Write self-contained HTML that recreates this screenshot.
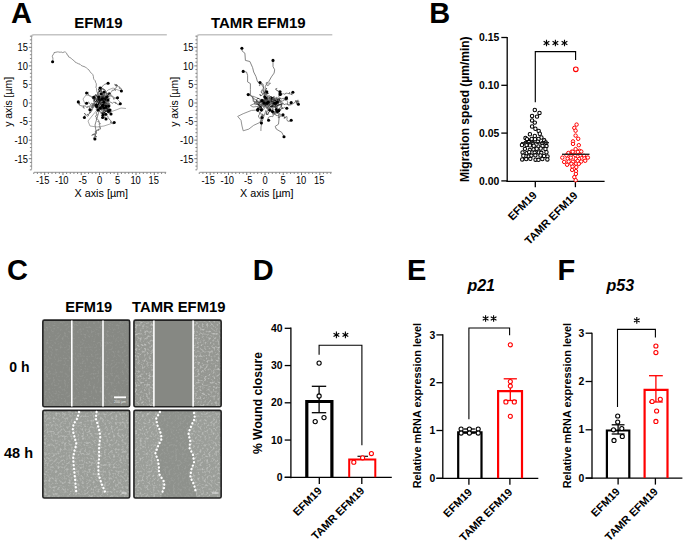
<!DOCTYPE html>
<html><head><meta charset="utf-8"><style>
html,body{margin:0;padding:0;background:#fff;width:685px;height:544px;overflow:hidden;}
svg{display:block;}
</style></head><body>
<svg width="685" height="544" viewBox="0 0 685 544">
<rect width="685" height="544" fill="#fff"/>
<text x="11.10" y="22.70" font-family="Liberation Sans, sans-serif" font-weight="bold" font-style="normal" font-size="29" text-anchor="start" fill="#000" >A</text>
<text x="429.20" y="22.60" font-family="Liberation Sans, sans-serif" font-weight="bold" font-style="normal" font-size="29" text-anchor="start" fill="#000" >B</text>
<text x="7.00" y="280.00" font-family="Liberation Sans, sans-serif" font-weight="bold" font-style="normal" font-size="29" text-anchor="start" fill="#000" >C</text>
<text x="252.80" y="280.00" font-family="Liberation Sans, sans-serif" font-weight="bold" font-style="normal" font-size="29" text-anchor="start" fill="#000" >D</text>
<text x="406.90" y="280.00" font-family="Liberation Sans, sans-serif" font-weight="bold" font-style="normal" font-size="29" text-anchor="start" fill="#000" >E</text>
<text x="557.50" y="279.70" font-family="Liberation Sans, sans-serif" font-weight="bold" font-style="normal" font-size="29" text-anchor="start" fill="#000" >F</text>
<g id="A1">
<path d="M31.60,37 Q31.60,34.7 33.90,34.7 H166.80" stroke="#c4c4c4" stroke-width="1.6" fill="none" />
<line x1="31.60" y1="36.50" x2="31.60" y2="169.60" stroke="#a8a8a8" stroke-width="1.1" stroke-linecap="butt"/>
<line x1="29.90" y1="169.83" x2="31.60" y2="169.83" stroke="#777" stroke-width="0.9" stroke-linecap="butt"/>
<line x1="29.90" y1="166.12" x2="31.60" y2="166.12" stroke="#777" stroke-width="0.9" stroke-linecap="butt"/>
<line x1="29.90" y1="162.41" x2="31.60" y2="162.41" stroke="#777" stroke-width="0.9" stroke-linecap="butt"/>
<line x1="28.80" y1="158.69" x2="31.60" y2="158.69" stroke="#666" stroke-width="0.9" stroke-linecap="butt"/>
<line x1="29.90" y1="154.98" x2="31.60" y2="154.98" stroke="#777" stroke-width="0.9" stroke-linecap="butt"/>
<line x1="29.90" y1="151.27" x2="31.60" y2="151.27" stroke="#777" stroke-width="0.9" stroke-linecap="butt"/>
<line x1="29.90" y1="147.56" x2="31.60" y2="147.56" stroke="#777" stroke-width="0.9" stroke-linecap="butt"/>
<line x1="29.90" y1="143.84" x2="31.60" y2="143.84" stroke="#777" stroke-width="0.9" stroke-linecap="butt"/>
<line x1="28.80" y1="140.13" x2="31.60" y2="140.13" stroke="#666" stroke-width="0.9" stroke-linecap="butt"/>
<line x1="29.90" y1="136.42" x2="31.60" y2="136.42" stroke="#777" stroke-width="0.9" stroke-linecap="butt"/>
<line x1="29.90" y1="132.70" x2="31.60" y2="132.70" stroke="#777" stroke-width="0.9" stroke-linecap="butt"/>
<line x1="29.90" y1="128.99" x2="31.60" y2="128.99" stroke="#777" stroke-width="0.9" stroke-linecap="butt"/>
<line x1="29.90" y1="125.28" x2="31.60" y2="125.28" stroke="#777" stroke-width="0.9" stroke-linecap="butt"/>
<line x1="28.80" y1="121.56" x2="31.60" y2="121.56" stroke="#666" stroke-width="0.9" stroke-linecap="butt"/>
<line x1="29.90" y1="117.85" x2="31.60" y2="117.85" stroke="#777" stroke-width="0.9" stroke-linecap="butt"/>
<line x1="29.90" y1="114.14" x2="31.60" y2="114.14" stroke="#777" stroke-width="0.9" stroke-linecap="butt"/>
<line x1="29.90" y1="110.43" x2="31.60" y2="110.43" stroke="#777" stroke-width="0.9" stroke-linecap="butt"/>
<line x1="29.90" y1="106.71" x2="31.60" y2="106.71" stroke="#777" stroke-width="0.9" stroke-linecap="butt"/>
<line x1="28.80" y1="103.00" x2="31.60" y2="103.00" stroke="#666" stroke-width="0.9" stroke-linecap="butt"/>
<line x1="29.90" y1="99.29" x2="31.60" y2="99.29" stroke="#777" stroke-width="0.9" stroke-linecap="butt"/>
<line x1="29.90" y1="95.57" x2="31.60" y2="95.57" stroke="#777" stroke-width="0.9" stroke-linecap="butt"/>
<line x1="29.90" y1="91.86" x2="31.60" y2="91.86" stroke="#777" stroke-width="0.9" stroke-linecap="butt"/>
<line x1="29.90" y1="88.15" x2="31.60" y2="88.15" stroke="#777" stroke-width="0.9" stroke-linecap="butt"/>
<line x1="28.80" y1="84.44" x2="31.60" y2="84.44" stroke="#666" stroke-width="0.9" stroke-linecap="butt"/>
<line x1="29.90" y1="80.72" x2="31.60" y2="80.72" stroke="#777" stroke-width="0.9" stroke-linecap="butt"/>
<line x1="29.90" y1="77.01" x2="31.60" y2="77.01" stroke="#777" stroke-width="0.9" stroke-linecap="butt"/>
<line x1="29.90" y1="73.30" x2="31.60" y2="73.30" stroke="#777" stroke-width="0.9" stroke-linecap="butt"/>
<line x1="29.90" y1="69.58" x2="31.60" y2="69.58" stroke="#777" stroke-width="0.9" stroke-linecap="butt"/>
<line x1="28.80" y1="65.87" x2="31.60" y2="65.87" stroke="#666" stroke-width="0.9" stroke-linecap="butt"/>
<line x1="29.90" y1="62.16" x2="31.60" y2="62.16" stroke="#777" stroke-width="0.9" stroke-linecap="butt"/>
<line x1="29.90" y1="58.44" x2="31.60" y2="58.44" stroke="#777" stroke-width="0.9" stroke-linecap="butt"/>
<line x1="29.90" y1="54.73" x2="31.60" y2="54.73" stroke="#777" stroke-width="0.9" stroke-linecap="butt"/>
<line x1="29.90" y1="51.02" x2="31.60" y2="51.02" stroke="#777" stroke-width="0.9" stroke-linecap="butt"/>
<line x1="28.80" y1="47.30" x2="31.60" y2="47.30" stroke="#666" stroke-width="0.9" stroke-linecap="butt"/>
<line x1="29.90" y1="43.59" x2="31.60" y2="43.59" stroke="#777" stroke-width="0.9" stroke-linecap="butt"/>
<line x1="29.90" y1="39.88" x2="31.60" y2="39.88" stroke="#777" stroke-width="0.9" stroke-linecap="butt"/>
<line x1="29.90" y1="36.17" x2="31.60" y2="36.17" stroke="#777" stroke-width="0.9" stroke-linecap="butt"/>
<line x1="34.00" y1="172.40" x2="166.20" y2="172.40" stroke="#a8a8a8" stroke-width="1.1" stroke-linecap="butt"/>
<line x1="33.75" y1="172.40" x2="33.75" y2="174.00" stroke="#777" stroke-width="0.9" stroke-linecap="butt"/>
<line x1="37.40" y1="172.40" x2="37.40" y2="174.00" stroke="#777" stroke-width="0.9" stroke-linecap="butt"/>
<line x1="41.05" y1="172.40" x2="41.05" y2="174.00" stroke="#777" stroke-width="0.9" stroke-linecap="butt"/>
<line x1="44.70" y1="172.40" x2="44.70" y2="175.00" stroke="#666" stroke-width="0.9" stroke-linecap="butt"/>
<line x1="48.36" y1="172.40" x2="48.36" y2="174.00" stroke="#777" stroke-width="0.9" stroke-linecap="butt"/>
<line x1="52.01" y1="172.40" x2="52.01" y2="174.00" stroke="#777" stroke-width="0.9" stroke-linecap="butt"/>
<line x1="55.66" y1="172.40" x2="55.66" y2="174.00" stroke="#777" stroke-width="0.9" stroke-linecap="butt"/>
<line x1="59.32" y1="172.40" x2="59.32" y2="174.00" stroke="#777" stroke-width="0.9" stroke-linecap="butt"/>
<line x1="62.97" y1="172.40" x2="62.97" y2="175.00" stroke="#666" stroke-width="0.9" stroke-linecap="butt"/>
<line x1="66.62" y1="172.40" x2="66.62" y2="174.00" stroke="#777" stroke-width="0.9" stroke-linecap="butt"/>
<line x1="70.28" y1="172.40" x2="70.28" y2="174.00" stroke="#777" stroke-width="0.9" stroke-linecap="butt"/>
<line x1="73.93" y1="172.40" x2="73.93" y2="174.00" stroke="#777" stroke-width="0.9" stroke-linecap="butt"/>
<line x1="77.58" y1="172.40" x2="77.58" y2="174.00" stroke="#777" stroke-width="0.9" stroke-linecap="butt"/>
<line x1="81.23" y1="172.40" x2="81.23" y2="175.00" stroke="#666" stroke-width="0.9" stroke-linecap="butt"/>
<line x1="84.89" y1="172.40" x2="84.89" y2="174.00" stroke="#777" stroke-width="0.9" stroke-linecap="butt"/>
<line x1="88.54" y1="172.40" x2="88.54" y2="174.00" stroke="#777" stroke-width="0.9" stroke-linecap="butt"/>
<line x1="92.19" y1="172.40" x2="92.19" y2="174.00" stroke="#777" stroke-width="0.9" stroke-linecap="butt"/>
<line x1="95.85" y1="172.40" x2="95.85" y2="174.00" stroke="#777" stroke-width="0.9" stroke-linecap="butt"/>
<line x1="99.50" y1="172.40" x2="99.50" y2="175.00" stroke="#666" stroke-width="0.9" stroke-linecap="butt"/>
<line x1="103.15" y1="172.40" x2="103.15" y2="174.00" stroke="#777" stroke-width="0.9" stroke-linecap="butt"/>
<line x1="106.81" y1="172.40" x2="106.81" y2="174.00" stroke="#777" stroke-width="0.9" stroke-linecap="butt"/>
<line x1="110.46" y1="172.40" x2="110.46" y2="174.00" stroke="#777" stroke-width="0.9" stroke-linecap="butt"/>
<line x1="114.11" y1="172.40" x2="114.11" y2="174.00" stroke="#777" stroke-width="0.9" stroke-linecap="butt"/>
<line x1="117.77" y1="172.40" x2="117.77" y2="175.00" stroke="#666" stroke-width="0.9" stroke-linecap="butt"/>
<line x1="121.42" y1="172.40" x2="121.42" y2="174.00" stroke="#777" stroke-width="0.9" stroke-linecap="butt"/>
<line x1="125.07" y1="172.40" x2="125.07" y2="174.00" stroke="#777" stroke-width="0.9" stroke-linecap="butt"/>
<line x1="128.72" y1="172.40" x2="128.72" y2="174.00" stroke="#777" stroke-width="0.9" stroke-linecap="butt"/>
<line x1="132.38" y1="172.40" x2="132.38" y2="174.00" stroke="#777" stroke-width="0.9" stroke-linecap="butt"/>
<line x1="136.03" y1="172.40" x2="136.03" y2="175.00" stroke="#666" stroke-width="0.9" stroke-linecap="butt"/>
<line x1="139.68" y1="172.40" x2="139.68" y2="174.00" stroke="#777" stroke-width="0.9" stroke-linecap="butt"/>
<line x1="143.34" y1="172.40" x2="143.34" y2="174.00" stroke="#777" stroke-width="0.9" stroke-linecap="butt"/>
<line x1="146.99" y1="172.40" x2="146.99" y2="174.00" stroke="#777" stroke-width="0.9" stroke-linecap="butt"/>
<line x1="150.64" y1="172.40" x2="150.64" y2="174.00" stroke="#777" stroke-width="0.9" stroke-linecap="butt"/>
<line x1="154.30" y1="172.40" x2="154.30" y2="175.00" stroke="#666" stroke-width="0.9" stroke-linecap="butt"/>
<line x1="157.95" y1="172.40" x2="157.95" y2="174.00" stroke="#777" stroke-width="0.9" stroke-linecap="butt"/>
<line x1="161.60" y1="172.40" x2="161.60" y2="174.00" stroke="#777" stroke-width="0.9" stroke-linecap="butt"/>
<line x1="165.25" y1="172.40" x2="165.25" y2="174.00" stroke="#777" stroke-width="0.9" stroke-linecap="butt"/>
<text transform="translate(27.90,51.20) scale(0.85,1)" x="0" y="0" font-family="Liberation Sans, sans-serif" font-weight="normal" font-size="11" text-anchor="end" fill="#000">15</text>
<text transform="translate(27.90,69.77) scale(0.85,1)" x="0" y="0" font-family="Liberation Sans, sans-serif" font-weight="normal" font-size="11" text-anchor="end" fill="#000">10</text>
<text transform="translate(27.90,88.34) scale(0.85,1)" x="0" y="0" font-family="Liberation Sans, sans-serif" font-weight="normal" font-size="11" text-anchor="end" fill="#000">5</text>
<text transform="translate(27.90,106.90) scale(0.85,1)" x="0" y="0" font-family="Liberation Sans, sans-serif" font-weight="normal" font-size="11" text-anchor="end" fill="#000">0</text>
<text transform="translate(27.90,125.47) scale(0.85,1)" x="0" y="0" font-family="Liberation Sans, sans-serif" font-weight="normal" font-size="11" text-anchor="end" fill="#000">-5</text>
<text transform="translate(27.90,144.03) scale(0.85,1)" x="0" y="0" font-family="Liberation Sans, sans-serif" font-weight="normal" font-size="11" text-anchor="end" fill="#000">-10</text>
<text transform="translate(27.90,162.59) scale(0.85,1)" x="0" y="0" font-family="Liberation Sans, sans-serif" font-weight="normal" font-size="11" text-anchor="end" fill="#000">-15</text>
<text transform="translate(42.65,184.20) scale(0.85,1)" x="0" y="0" font-family="Liberation Sans, sans-serif" font-weight="normal" font-size="11" text-anchor="middle" fill="#000">-15</text>
<text transform="translate(61.80,184.20) scale(0.85,1)" x="0" y="0" font-family="Liberation Sans, sans-serif" font-weight="normal" font-size="11" text-anchor="middle" fill="#000">-10</text>
<text transform="translate(82.75,184.20) scale(0.85,1)" x="0" y="0" font-family="Liberation Sans, sans-serif" font-weight="normal" font-size="11" text-anchor="middle" fill="#000">-5</text>
<text transform="translate(99.50,184.20) scale(0.85,1)" x="0" y="0" font-family="Liberation Sans, sans-serif" font-weight="normal" font-size="11" text-anchor="middle" fill="#000">0</text>
<text transform="translate(117.50,184.20) scale(0.85,1)" x="0" y="0" font-family="Liberation Sans, sans-serif" font-weight="normal" font-size="11" text-anchor="middle" fill="#000">5</text>
<text transform="translate(135.60,184.20) scale(0.85,1)" x="0" y="0" font-family="Liberation Sans, sans-serif" font-weight="normal" font-size="11" text-anchor="middle" fill="#000">10</text>
<text transform="translate(153.80,184.20) scale(0.85,1)" x="0" y="0" font-family="Liberation Sans, sans-serif" font-weight="normal" font-size="11" text-anchor="middle" fill="#000">15</text>
<text x="74.50" y="197.00" font-family="Liberation Sans, sans-serif" font-weight="normal" font-style="normal" font-size="10.8" text-anchor="start" fill="#000" >X axis [µm]</text>
<text transform="translate(12.00,101.90) rotate(-90)" x="0" y="0" font-family="Liberation Sans, sans-serif" font-weight="normal" font-size="10.4" text-anchor="middle" fill="#000">y axis [µm]</text>
<text x="74.20" y="27.90" font-family="Liberation Sans, sans-serif" font-weight="bold" font-style="normal" font-size="15" text-anchor="start" fill="#000" >EFM19</text>
<path d="M52.6,61.8 L52.8,60.7 L52.9,59.5 L52.9,58.1 L52.3,56.3 L52.8,55.0 L53.8,53.9 L54.0,52.6 L56.0,52.2 L57.7,51.9 L58.7,52.0 L60.2,52.3 L61.0,51.9 L62.7,52.6 L64.5,51.9 L65.6,52.2 L66.6,53.1 L67.0,54.7 L68.1,55.3 L68.6,56.9 L70.0,57.5 L71.2,58.4 L72.9,59.9 L74.6,61.2 L75.2,62.2 L76.6,62.8 L78.3,63.7 L80.0,64.2 L81.1,65.4 L82.8,66.2 L84.0,66.5 L85.6,67.2 L86.4,68.0 L87.5,68.8 L89.1,70.1 L89.8,71.3 L90.5,72.5 L91.7,73.3 L92.8,74.6 L93.4,76.4 L93.5,78.2 L94.1,79.6 L95.2,80.7 L95.7,82.6 L96.3,83.6 L96.3,85.9 L95.9,87.3 L96.5,88.5 L96.7,90.1 L96.7,91.1 L97.5,93.0 L97.4,95.1 L97.6,96.6 L98.0,98.0 L98.8,99.6 L98.6,100.4 L99.1,102.0 L99.5,103.0" stroke="#777" stroke-width="0.8" fill="none" stroke-linejoin="round"/>
<path d="M99.4,103.4 L98.5,102.1 L100.1,102.1 L100.3,100.5 L100.5,99.0 L101.4,100.3 L102.2,98.9 L102.7,97.4 L104.2,96.8 L105.8,96.7 L106.0,95.1 L107.2,94.0 L105.9,93.1 L105.6,91.5 L105.3,90.0 L103.9,89.2 L102.5,88.4 L101.2,87.5 L102.3,86.3 L103.6,85.3 L104.7,84.2 L106.3,83.9 L108.1,83.3" stroke="#555" stroke-width="0.7" fill="none" stroke-linejoin="round"/>
<path d="M99.8,98.3 L99.5,96.8 L100.8,97.6 L101.3,96.1 L102.6,95.1 L101.3,94.0 L102.6,93.0 L101.3,92.1 L101.2,90.5 L101.7,92.0 L100.5,91.0 L101.5,92.2 L103.0,92.7 L104.5,92.0 L105.9,92.7 L107.3,93.4 L108.2,94.8 L109.6,94.0 L110.6,92.7 L111.7,91.5 L112.4,90.1 L114.0,90.2 L115.1,89.1 L115.3,90.7 L114.6,89.2 L115.5,87.9 L116.9,87.1 L116.9,85.5 L115.3,85.7 L114.7,84.2 L116.1,85.0 L117.7,85.4 L116.2,85.9 L116.4,84.3 L115.6,85.7 L117.2,85.6 L118.4,86.7 L119.9,87.0 L119.4,88.5 L120.9,88.0 L121.3,89.5 L121.4,91.0" stroke="#555" stroke-width="0.7" fill="none" stroke-linejoin="round"/>
<path d="M103.1,107.9 L102.4,106.5 L103.6,105.4 L103.8,103.8 L102.2,103.7 L101.2,102.4 L99.6,102.3 L100.8,101.3 L99.7,100.2 L98.1,99.8 L96.6,99.3 L95.1,98.8 L93.6,98.2 L92.1,98.7 L93.7,98.6 L93.5,100.1 L95.1,100.1 L93.7,99.3 L92.4,98.4 L91.7,96.9 L90.3,96.3 L88.9,95.4 L88.3,93.9 L88.3,92.3 L86.6,93.0" stroke="#555" stroke-width="0.7" fill="none" stroke-linejoin="round"/>
<path d="M101.7,99.6 L101.0,101.0 L102.5,101.6 L102.8,100.1 L101.6,101.1 L102.9,102.1 L103.9,100.8 L104.0,99.2 L105.5,99.5 L106.3,98.1 L106.9,96.7 L107.3,95.1 L108.8,94.6 L108.8,96.2 L110.3,95.7 L110.7,94.2 L111.3,95.7 L112.8,96.3 L113.3,97.8 L113.7,99.3 L115.1,98.4 L116.5,97.7 L117.5,97.7" stroke="#555" stroke-width="0.7" fill="none" stroke-linejoin="round"/>
<path d="M100.5,103.8 L98.9,103.7 L98.9,102.1 L97.4,101.8 L95.8,102.2 L94.3,102.7 L93.2,103.8 L92.0,104.9 L90.5,105.3 L89.2,106.3 L87.6,106.4 L87.1,107.9 L86.3,106.6 L84.9,105.7 L83.7,106.8 L84.1,108.4 L83.0,107.2 L83.8,105.8 L82.2,106.1 L80.7,105.6 L79.2,105.0 L79.9,103.6 L78.3,103.9 L79.7,103.1 L78.3,101.9" stroke="#555" stroke-width="0.7" fill="none" stroke-linejoin="round"/>
<path d="M99.8,101.8 L98.2,101.9 L96.7,102.5 L96.9,104.0 L95.7,105.0 L94.1,105.2 L93.2,103.9 L91.7,103.3 L90.5,104.4 L89.3,103.3 L88.6,101.9 L87.5,102.9 L86.6,103.2" stroke="#555" stroke-width="0.7" fill="none" stroke-linejoin="round"/>
<path d="M99.9,101.3 L101.4,100.8 L102.6,101.8 L103.6,100.6 L104.9,101.5 L106.4,100.9 L107.7,99.9 L107.5,101.5 L108.3,102.9 L109.5,101.9 L111.0,102.3 L112.3,103.3 L113.5,102.3 L115.1,102.4 L116.0,103.8 L115.4,102.3 L116.7,103.2 L117.6,104.5 L119.2,104.9 L120.3,103.7" stroke="#555" stroke-width="0.7" fill="none" stroke-linejoin="round"/>
<path d="M102.8,101.5 L103.6,102.9 L102.0,102.6 L100.4,102.4 L98.9,103.0 L98.8,104.6 L98.2,106.1 L96.8,105.3 L96.8,106.9 L95.2,106.7 L93.6,106.6 L92.8,108.0 L93.5,106.6 L92.2,107.5 L92.3,105.9 L93.9,105.8 L95.5,105.6 L94.0,104.9 L92.4,105.2 L92.2,106.8 L91.3,108.1 L92.9,108.4 L92.2,109.8 L91.5,111.3 L90.1,110.5 L89.9,109.8" stroke="#555" stroke-width="0.7" fill="none" stroke-linejoin="round"/>
<path d="M99.4,98.7 L97.8,98.6 L98.0,100.1 L97.7,101.7 L96.5,102.8 L95.9,104.3 L94.6,103.5 L95.1,105.0 L94.5,103.5 L95.2,104.9 L93.7,104.4 L94.1,106.0 L93.1,104.7 L92.1,105.9 L90.7,106.7 L89.1,107.1 L89.6,108.6 L90.5,109.9 L92.1,109.9 L90.7,109.1 L90.9,110.7 L90.8,112.3 L89.6,113.3 L89.5,111.7 L90.9,112.3 L89.5,112.9 L88.8,114.4 L87.2,114.4 L88.7,115.0 L87.8,116.3 L86.5,115.4 L85.5,114.1 L84.1,113.3 L85.5,114.2 L84.9,115.7 L84.4,117.5" stroke="#555" stroke-width="0.7" fill="none" stroke-linejoin="round"/>
<path d="M101.8,106.6 L102.9,107.8 L102.6,109.3 L103.3,110.8 L104.6,111.8 L103.7,113.1 L105.2,112.5 L105.4,114.1 L106.5,115.2 L107.8,116.2 L108.2,117.8 L109.2,119.0 L110.2,120.2 L111.3,121.4 L110.0,122.4 L111.6,121.9 L111.9,123.4 L113.5,123.9 L114.2,122.5" stroke="#555" stroke-width="0.7" fill="none" stroke-linejoin="round"/>
<path d="M99.9,101.1 L101.1,102.2 L99.5,102.5 L100.6,103.6 L101.2,105.1 L100.4,106.5 L98.9,107.2 L97.5,107.9 L96.1,108.7 L96.4,110.3 L97.7,111.1 L96.7,112.3 L96.1,113.8 L97.4,114.7 L96.0,115.3 L95.5,116.8 L96.9,117.7 L96.0,119.0 L97.6,119.3 L98.8,120.4 L97.8,121.6 L99.4,121.7 L99.0,123.2 L100.5,123.7 L99.0,124.4 L99.8,125.7 L99.0,127.1 L100.5,127.5 L100.4,129.1 L98.8,129.1 L97.6,130.2 L99.1,129.9 L97.5,130.1 L96.0,130.6 L96.5,132.1 L94.9,131.8 L96.4,132.4 L96.2,134.0 L94.6,134.1 L93.0,134.4 L91.7,135.3 L93.2,134.7 L94.3,133.6 L93.8,135.1 L95.3,134.7 L95.4,136.3 L96.9,136.8 L95.4,136.3 L94.0,137.1 L93.7,138.6 L94.9,139.0" stroke="#555" stroke-width="0.7" fill="none" stroke-linejoin="round"/>
<path d="M102.6,98.4 L103.0,96.9 L103.9,95.6 L104.4,94.1 L104.9,92.5 L104.0,92.0" stroke="#555" stroke-width="0.7" fill="none" stroke-linejoin="round"/>
<path d="M98.1,106.4 L99.7,106.1 L99.2,107.6 L99.0,109.2 L100.0,108.0 L99.9,106.4 L99.7,108.0 L101.2,107.6 L102.7,108.2 L104.3,108.1 L105.7,108.8 L106.5,107.4 L107.9,108.2 L109.5,108.6 L110.0,110.0" stroke="#555" stroke-width="0.7" fill="none" stroke-linejoin="round"/>
<path d="M102.5,107.3 L101.3,108.4 L101.1,110.0 L102.4,109.0 L103.6,110.0 L103.4,111.5 L102.2,112.7 L102.7,114.2 L103.0,115.0" stroke="#555" stroke-width="0.7" fill="none" stroke-linejoin="round"/>
<path d="M102.5,101.9 L103.1,103.4 L103.5,101.9 L104.9,102.5 L105.3,101.0 L106.6,101.8 L108.2,102.2 L109.0,100.8 L108.0,100.0" stroke="#555" stroke-width="0.7" fill="none" stroke-linejoin="round"/>
<path d="M103.8,102.1 L103.4,100.6 L102.1,99.6 L100.9,98.6 L99.4,98.9 L98.5,97.6 L97.2,96.7 L95.6,96.3 L96.6,95.0 L97.9,94.1 L97.8,92.5 L99.3,93.1 L100.8,92.4 L102.1,91.5 L100.6,91.0 L99.1,91.4 L100.3,90.4 L100.6,88.8 L100.0,88.0" stroke="#555" stroke-width="0.7" fill="none" stroke-linejoin="round"/>
<path d="M99.2,103.9 L98.6,105.3 L99.8,106.4 L99.3,108.0 L100.9,108.1 L101.2,106.5 L102.4,107.5 L100.9,107.9 L102.1,106.8 L100.9,108.0 L102.4,108.6 L103.5,109.7 L103.8,111.3 L103.9,112.9 L105.5,113.1 L105.4,114.7 L104.9,116.2 L104.1,117.6 L105.6,117.3 L106.0,119.0" stroke="#555" stroke-width="0.7" fill="none" stroke-linejoin="round"/>
<path d="M98.9,107.9 L98.0,109.2 L98.6,107.8 L99.9,108.8 L99.9,107.2 L100.8,108.5 L101.5,109.9 L102.5,108.7 L103.1,107.2 L104.1,108.5 L104.4,110.1 L105.9,109.5 L107.4,110.2 L106.8,108.7 L108.4,108.9 L108.9,110.4 L109.5,111.9 L108.0,112.7 L109.1,111.5 L109.1,109.9 L109.0,111.5 L110.6,111.9 L110.4,113.5 L111.0,114.0" stroke="#555" stroke-width="0.7" fill="none" stroke-linejoin="round"/>
<path d="M99.0,106.0 L104.0,110.0 L110.0,112.0 L116.0,110.0 L121.0,108.0 L126.0,108.5" stroke="#888" stroke-width="0.7" fill="none" stroke-linejoin="round"/>
<path d="M97.0,110.0 L92.0,116.0 L88.0,121.0 L90.0,126.0 L97.0,127.0 L104.0,126.0 L110.0,124.0 L114.0,122.5" stroke="#888" stroke-width="0.7" fill="none" stroke-linejoin="round"/>
<path d="M100.0,108.0 L97.0,118.0 L95.0,125.0 L96.0,131.0 L94.9,139.0" stroke="#666" stroke-width="0.8" fill="none" stroke-linejoin="round"/>
<path d="M102.0,96.0 L108.0,90.0 L113.0,88.0 L118.0,90.0 L121.4,91.0" stroke="#888" stroke-width="0.7" fill="none" stroke-linejoin="round"/>
<path d="M103.0,98.0 L110.0,96.0 L116.0,98.0 L120.0,102.0 L120.3,103.7" stroke="#888" stroke-width="0.7" fill="none" stroke-linejoin="round"/>
<path d="M96.0,100.0 L91.0,96.0 L86.0,95.0 L83.0,99.0 L85.0,104.0 L86.6,103.2" stroke="#888" stroke-width="0.7" fill="none" stroke-linejoin="round"/>
<path d="M104.4,105.9 L105.6,104.4 L107.2,103.3 L107.1,105.2 L108.4,103.8 L107.6,105.5 L106.0,106.4" stroke="#000" stroke-width="0.75" fill="none" stroke-linejoin="round"/>
<path d="M106.9,105.8 L108.5,104.8 L110.4,105.2 L108.6,105.8 L108.4,103.9 L107.4,105.5 L109.3,105.8" stroke="#444" stroke-width="0.75" fill="none" stroke-linejoin="round"/>
<path d="M103.8,95.1 L104.3,96.9 L102.6,96.0 L104.5,95.4 L103.0,96.6 L101.2,96.1 L102.6,97.4" stroke="#444" stroke-width="0.75" fill="none" stroke-linejoin="round"/>
<path d="M103.5,108.1 L101.8,108.9 L99.9,108.5 L99.9,110.4 L98.0,110.1 L97.4,108.3 L96.6,106.6" stroke="#444" stroke-width="0.75" fill="none" stroke-linejoin="round"/>
<path d="M103.7,102.3 L102.8,100.6 L101.7,99.0 L102.4,97.2 L102.2,99.1 L102.3,97.2 L104.1,96.7" stroke="#000" stroke-width="0.75" fill="none" stroke-linejoin="round"/>
<path d="M99.2,98.1 L100.9,98.8 L100.4,100.7 L100.1,98.8 L100.0,96.9 L98.9,95.4 L98.7,93.5" stroke="#222" stroke-width="0.75" fill="none" stroke-linejoin="round"/>
<path d="M98.5,107.9 L97.4,106.3 L98.8,107.6 L100.5,106.8 L101.7,108.3 L100.8,110.0 L100.4,108.1" stroke="#666" stroke-width="0.75" fill="none" stroke-linejoin="round"/>
<path d="M108.4,93.2 L106.6,93.7 L105.9,95.4 L106.7,97.1 L108.5,97.9 L108.1,96.1 L108.1,94.2" stroke="#666" stroke-width="0.75" fill="none" stroke-linejoin="round"/>
<path d="M100.3,98.8 L98.9,100.0 L100.2,98.7 L102.1,99.2 L100.2,99.1 L100.2,101.0 L100.4,99.1" stroke="#444" stroke-width="0.75" fill="none" stroke-linejoin="round"/>
<path d="M104.1,113.1 L102.3,113.7 L103.0,111.9 L104.7,112.7 L102.8,112.8 L104.7,112.7 L105.8,114.2" stroke="#000" stroke-width="0.75" fill="none" stroke-linejoin="round"/>
<path d="M96.2,98.5 L97.8,97.5 L99.3,98.7 L98.7,96.9 L96.9,96.1 L96.0,94.5 L94.5,95.7" stroke="#222" stroke-width="0.75" fill="none" stroke-linejoin="round"/>
<path d="M98.0,98.9 L96.5,100.1 L97.1,101.8 L95.3,101.5 L93.6,100.7 L94.1,102.5 L94.1,104.4" stroke="#444" stroke-width="0.75" fill="none" stroke-linejoin="round"/>
<path d="M101.0,113.5 L102.4,112.3 L104.2,111.7 L102.8,113.0 L101.0,112.4 L99.4,111.4 L98.1,110.0" stroke="#444" stroke-width="0.75" fill="none" stroke-linejoin="round"/>
<path d="M103.2,109.6 L105.0,110.0 L105.7,111.8 L104.4,110.4 L105.9,111.5 L106.0,109.6 L106.2,111.5" stroke="#222" stroke-width="0.75" fill="none" stroke-linejoin="round"/>
<path d="M98.9,94.9 L99.6,96.6 L97.7,96.3 L99.6,96.7 L97.7,96.7 L96.5,95.2 L94.7,95.9" stroke="#444" stroke-width="0.75" fill="none" stroke-linejoin="round"/>
<path d="M101.4,115.3 L102.7,116.7 L103.2,114.9 L101.8,113.5 L103.6,114.1 L102.4,115.6 L102.6,117.5" stroke="#000" stroke-width="0.75" fill="none" stroke-linejoin="round"/>
<path d="M100.2,100.7 L99.2,102.3 L98.3,104.0 L97.2,105.6 L96.5,103.8 L98.2,104.7 L99.2,103.1" stroke="#000" stroke-width="0.75" fill="none" stroke-linejoin="round"/>
<path d="M102.0,99.7 L101.0,101.3 L101.6,99.5 L103.3,98.7 L104.6,97.3 L102.8,98.0 L102.9,96.1" stroke="#666" stroke-width="0.75" fill="none" stroke-linejoin="round"/>
<path d="M96.5,97.4 L95.0,98.4 L96.0,96.9 L95.5,95.0 L94.0,96.2 L92.2,96.6 L93.9,97.3" stroke="#666" stroke-width="0.75" fill="none" stroke-linejoin="round"/>
<path d="M107.5,103.9 L109.4,104.2 L107.5,104.7 L106.8,103.0 L105.1,103.7 L103.3,104.2 L105.1,104.6" stroke="#444" stroke-width="0.75" fill="none" stroke-linejoin="round"/>
<path d="M105.8,97.8 L103.9,97.5 L102.4,96.4 L102.7,98.2 L104.6,98.3 L105.1,100.1 L105.5,98.3" stroke="#222" stroke-width="0.75" fill="none" stroke-linejoin="round"/>
<path d="M104.4,106.9 L105.5,108.5 L107.3,108.8 L105.7,107.8 L103.8,107.8 L102.6,106.4 L103.8,107.8" stroke="#222" stroke-width="0.75" fill="none" stroke-linejoin="round"/>
<path d="M98.7,98.1 L99.7,96.5 L98.2,97.6 L97.4,99.3 L99.2,99.7 L98.8,97.9 L98.9,99.8" stroke="#000" stroke-width="0.75" fill="none" stroke-linejoin="round"/>
<path d="M102.8,100.8 L104.6,100.4 L105.0,102.3 L106.6,103.3 L104.7,103.6 L105.7,105.2 L104.3,103.9" stroke="#444" stroke-width="0.75" fill="none" stroke-linejoin="round"/>
<path d="M102.5,109.5 L103.1,107.7 L102.7,109.5 L104.6,109.3 L106.3,108.6 L106.8,106.8 L108.6,106.3" stroke="#666" stroke-width="0.75" fill="none" stroke-linejoin="round"/>
<path d="M99.6,102.0 L100.4,100.3 L99.1,98.9 L98.0,100.5 L99.6,101.5 L98.8,99.8 L100.7,99.4" stroke="#000" stroke-width="0.75" fill="none" stroke-linejoin="round"/>
<path d="M104.7,109.8 L106.6,110.0 L104.7,110.0 L102.8,110.2 L103.5,111.9 L101.6,111.8 L100.7,113.5" stroke="#666" stroke-width="0.75" fill="none" stroke-linejoin="round"/>
<path d="M105.1,98.0 L104.0,99.6 L103.0,98.0 L101.6,99.2 L101.6,97.3 L100.3,95.9 L98.8,97.1" stroke="#444" stroke-width="0.75" fill="none" stroke-linejoin="round"/>
<path d="M105.3,104.7 L103.4,104.6 L101.6,104.1 L99.7,103.6 L100.0,101.8 L98.5,102.8 L99.5,101.2" stroke="#666" stroke-width="0.75" fill="none" stroke-linejoin="round"/>
<path d="M105.2,106.2 L106.9,105.4 L105.7,106.8 L104.0,107.8 L104.3,109.6 L104.6,107.8 L102.7,108.0" stroke="#444" stroke-width="0.75" fill="none" stroke-linejoin="round"/>
<path d="M98.3,105.3 L98.3,103.4 L100.0,102.5 L99.3,100.7 L101.1,100.1 L103.0,100.6 L103.9,102.3" stroke="#000" stroke-width="0.75" fill="none" stroke-linejoin="round"/>
<path d="M98.4,103.3 L97.7,101.5 L96.7,99.9 L95.9,101.6 L94.3,100.5 L94.9,98.7 L96.7,99.3" stroke="#000" stroke-width="0.75" fill="none" stroke-linejoin="round"/>
<path d="M100.7,88.8 L100.5,86.9 L99.5,88.6 L98.2,90.0 L99.9,90.8 L98.4,91.9 L100.2,91.4" stroke="#000" stroke-width="0.75" fill="none" stroke-linejoin="round"/>
<path d="M104.2,99.0 L102.4,99.6 L103.3,97.9 L103.7,99.8 L103.0,98.0 L104.9,97.7 L106.6,97.0" stroke="#222" stroke-width="0.75" fill="none" stroke-linejoin="round"/>
<path d="M104.5,101.1 L104.7,103.0 L106.6,102.6 L106.9,104.5 L105.2,103.8 L103.5,104.7 L103.9,102.8" stroke="#444" stroke-width="0.75" fill="none" stroke-linejoin="round"/>
<path d="M101.7,103.9 L102.5,105.7 L103.3,107.4 L105.0,108.3 L105.8,106.6 L107.3,107.8 L109.1,108.1" stroke="#000" stroke-width="0.75" fill="none" stroke-linejoin="round"/>
<path d="M97.9,106.3 L99.5,107.3 L97.7,107.7 L98.0,109.6 L98.9,107.9 L97.5,106.6 L96.3,105.2" stroke="#444" stroke-width="0.75" fill="none" stroke-linejoin="round"/>
<path d="M108.8,94.2 L109.2,92.3 L108.7,94.1 L110.5,93.5 L108.7,94.1 L107.3,95.4 L108.7,96.7" stroke="#000" stroke-width="0.75" fill="none" stroke-linejoin="round"/>
<path d="M104.9,91.8 L106.5,92.7 L105.5,94.2 L103.6,94.4 L105.3,95.2 L103.5,94.6 L103.3,92.7" stroke="#666" stroke-width="0.75" fill="none" stroke-linejoin="round"/>
<path d="M103.2,102.5 L101.3,102.3 L101.3,104.2 L102.3,102.6 L104.1,103.3 L104.3,105.2 L102.5,105.9" stroke="#444" stroke-width="0.75" fill="none" stroke-linejoin="round"/>
<path d="M100.8,102.8 L102.5,102.0 L102.2,100.1 L103.5,98.8 L105.4,98.6 L104.0,97.4 L105.7,96.6" stroke="#666" stroke-width="0.75" fill="none" stroke-linejoin="round"/>
<path d="M104.0,99.1 L102.6,97.8 L101.0,98.8 L102.5,97.7 L104.4,97.5 L102.6,97.8 L100.9,96.8" stroke="#000" stroke-width="0.75" fill="none" stroke-linejoin="round"/>
<path d="M103.6,98.0 L104.4,99.8 L106.0,100.9 L105.6,99.0 L105.1,100.8 L103.2,100.6 L102.0,99.1" stroke="#000" stroke-width="0.75" fill="none" stroke-linejoin="round"/>
<path d="M109.7,103.5 L107.8,103.6 L109.6,104.0 L107.7,104.4 L108.4,106.2 L108.7,104.4 L109.9,105.8" stroke="#666" stroke-width="0.75" fill="none" stroke-linejoin="round"/>
<path d="M104.2,100.0 L105.9,100.8 L106.9,102.4 L107.1,100.5 L106.5,98.7 L108.4,98.4 L110.3,98.2" stroke="#444" stroke-width="0.75" fill="none" stroke-linejoin="round"/>
<path d="M105.3,108.5 L107.1,107.8 L105.2,108.1 L107.1,108.1 L107.4,109.9 L109.3,109.4 L108.8,111.3" stroke="#000" stroke-width="0.75" fill="none" stroke-linejoin="round"/>
<path d="M100.7,88.8 L101.4,87.0 L100.8,88.8 L100.9,90.7 L101.6,88.9 L103.5,89.1 L104.8,90.5" stroke="#222" stroke-width="0.75" fill="none" stroke-linejoin="round"/>
<path d="M103.6,98.2 L105.4,98.8 L106.0,100.6 L106.2,98.7 L104.4,99.1 L106.2,98.9 L106.7,97.0" stroke="#000" stroke-width="0.75" fill="none" stroke-linejoin="round"/>
<path d="M101.5,97.2 L101.2,99.1 L102.8,98.0 L103.8,96.4 L102.3,95.2 L103.0,93.5 L101.2,94.1" stroke="#444" stroke-width="0.75" fill="none" stroke-linejoin="round"/>
<path d="M102.2,102.2 L100.5,103.1 L100.4,105.0 L102.2,105.6 L100.5,106.4 L99.2,105.0 L98.3,103.3" stroke="#222" stroke-width="0.75" fill="none" stroke-linejoin="round"/>
<path d="M108.1,112.3 L109.2,110.7 L107.5,111.7 L107.5,109.8 L106.5,111.4 L107.8,112.8 L109.7,113.0" stroke="#000" stroke-width="0.75" fill="none" stroke-linejoin="round"/>
<path d="M100.4,111.3 L101.9,110.1 L103.5,109.1 L101.6,109.5 L100.7,107.8 L102.4,107.0 L103.1,105.2" stroke="#666" stroke-width="0.75" fill="none" stroke-linejoin="round"/>
<circle cx="52.60" cy="61.80" r="1.55" fill="#000"/>
<circle cx="108.10" cy="83.30" r="1.55" fill="#000"/>
<circle cx="121.40" cy="91.00" r="1.55" fill="#000"/>
<circle cx="86.60" cy="93.00" r="1.55" fill="#000"/>
<circle cx="117.50" cy="97.70" r="1.55" fill="#000"/>
<circle cx="78.30" cy="101.90" r="1.55" fill="#000"/>
<circle cx="86.60" cy="103.20" r="1.55" fill="#000"/>
<circle cx="120.30" cy="103.70" r="1.55" fill="#000"/>
<circle cx="89.90" cy="109.80" r="1.55" fill="#000"/>
<circle cx="84.40" cy="117.50" r="1.55" fill="#000"/>
<circle cx="114.20" cy="122.50" r="1.55" fill="#000"/>
<circle cx="94.90" cy="139.00" r="1.55" fill="#000"/>
<circle cx="104.00" cy="92.00" r="1.55" fill="#000"/>
<circle cx="110.00" cy="110.00" r="1.55" fill="#000"/>
<circle cx="103.00" cy="115.00" r="1.55" fill="#000"/>
<circle cx="108.00" cy="100.00" r="1.55" fill="#000"/>
<circle cx="100.00" cy="88.00" r="1.55" fill="#000"/>
<circle cx="106.00" cy="119.00" r="1.55" fill="#000"/>
<circle cx="111.00" cy="114.00" r="1.55" fill="#000"/>
<circle cx="105.95" cy="106.42" r="1.55" fill="#000"/>
<circle cx="96.61" cy="106.58" r="1.55" fill="#000"/>
<circle cx="100.43" cy="108.11" r="1.55" fill="#000"/>
<circle cx="105.78" cy="114.25" r="1.55" fill="#000"/>
<circle cx="98.11" cy="110.01" r="1.55" fill="#000"/>
<circle cx="102.63" cy="117.48" r="1.55" fill="#000"/>
<circle cx="93.88" cy="97.35" r="1.55" fill="#000"/>
<circle cx="103.78" cy="107.81" r="1.55" fill="#000"/>
<circle cx="108.64" cy="106.32" r="1.55" fill="#000"/>
<circle cx="98.81" cy="97.11" r="1.55" fill="#000"/>
<circle cx="103.87" cy="102.26" r="1.55" fill="#000"/>
<circle cx="106.64" cy="96.98" r="1.55" fill="#000"/>
<circle cx="96.31" cy="105.16" r="1.55" fill="#000"/>
<circle cx="102.50" cy="105.91" r="1.55" fill="#000"/>
<circle cx="102.01" cy="99.12" r="1.55" fill="#000"/>
<circle cx="108.82" cy="111.26" r="1.55" fill="#000"/>
<circle cx="101.16" cy="94.05" r="1.55" fill="#000"/>
<circle cx="103.11" cy="105.25" r="1.55" fill="#000"/>
</g>
<g id="A2">
<path d="M197.10,37 Q197.10,34.7 199.40,34.7 H332.30" stroke="#c4c4c4" stroke-width="1.6" fill="none" />
<line x1="197.10" y1="36.50" x2="197.10" y2="169.60" stroke="#a8a8a8" stroke-width="1.1" stroke-linecap="butt"/>
<line x1="195.40" y1="169.83" x2="197.10" y2="169.83" stroke="#777" stroke-width="0.9" stroke-linecap="butt"/>
<line x1="195.40" y1="166.12" x2="197.10" y2="166.12" stroke="#777" stroke-width="0.9" stroke-linecap="butt"/>
<line x1="195.40" y1="162.41" x2="197.10" y2="162.41" stroke="#777" stroke-width="0.9" stroke-linecap="butt"/>
<line x1="194.30" y1="158.69" x2="197.10" y2="158.69" stroke="#666" stroke-width="0.9" stroke-linecap="butt"/>
<line x1="195.40" y1="154.98" x2="197.10" y2="154.98" stroke="#777" stroke-width="0.9" stroke-linecap="butt"/>
<line x1="195.40" y1="151.27" x2="197.10" y2="151.27" stroke="#777" stroke-width="0.9" stroke-linecap="butt"/>
<line x1="195.40" y1="147.56" x2="197.10" y2="147.56" stroke="#777" stroke-width="0.9" stroke-linecap="butt"/>
<line x1="195.40" y1="143.84" x2="197.10" y2="143.84" stroke="#777" stroke-width="0.9" stroke-linecap="butt"/>
<line x1="194.30" y1="140.13" x2="197.10" y2="140.13" stroke="#666" stroke-width="0.9" stroke-linecap="butt"/>
<line x1="195.40" y1="136.42" x2="197.10" y2="136.42" stroke="#777" stroke-width="0.9" stroke-linecap="butt"/>
<line x1="195.40" y1="132.70" x2="197.10" y2="132.70" stroke="#777" stroke-width="0.9" stroke-linecap="butt"/>
<line x1="195.40" y1="128.99" x2="197.10" y2="128.99" stroke="#777" stroke-width="0.9" stroke-linecap="butt"/>
<line x1="195.40" y1="125.28" x2="197.10" y2="125.28" stroke="#777" stroke-width="0.9" stroke-linecap="butt"/>
<line x1="194.30" y1="121.56" x2="197.10" y2="121.56" stroke="#666" stroke-width="0.9" stroke-linecap="butt"/>
<line x1="195.40" y1="117.85" x2="197.10" y2="117.85" stroke="#777" stroke-width="0.9" stroke-linecap="butt"/>
<line x1="195.40" y1="114.14" x2="197.10" y2="114.14" stroke="#777" stroke-width="0.9" stroke-linecap="butt"/>
<line x1="195.40" y1="110.43" x2="197.10" y2="110.43" stroke="#777" stroke-width="0.9" stroke-linecap="butt"/>
<line x1="195.40" y1="106.71" x2="197.10" y2="106.71" stroke="#777" stroke-width="0.9" stroke-linecap="butt"/>
<line x1="194.30" y1="103.00" x2="197.10" y2="103.00" stroke="#666" stroke-width="0.9" stroke-linecap="butt"/>
<line x1="195.40" y1="99.29" x2="197.10" y2="99.29" stroke="#777" stroke-width="0.9" stroke-linecap="butt"/>
<line x1="195.40" y1="95.57" x2="197.10" y2="95.57" stroke="#777" stroke-width="0.9" stroke-linecap="butt"/>
<line x1="195.40" y1="91.86" x2="197.10" y2="91.86" stroke="#777" stroke-width="0.9" stroke-linecap="butt"/>
<line x1="195.40" y1="88.15" x2="197.10" y2="88.15" stroke="#777" stroke-width="0.9" stroke-linecap="butt"/>
<line x1="194.30" y1="84.44" x2="197.10" y2="84.44" stroke="#666" stroke-width="0.9" stroke-linecap="butt"/>
<line x1="195.40" y1="80.72" x2="197.10" y2="80.72" stroke="#777" stroke-width="0.9" stroke-linecap="butt"/>
<line x1="195.40" y1="77.01" x2="197.10" y2="77.01" stroke="#777" stroke-width="0.9" stroke-linecap="butt"/>
<line x1="195.40" y1="73.30" x2="197.10" y2="73.30" stroke="#777" stroke-width="0.9" stroke-linecap="butt"/>
<line x1="195.40" y1="69.58" x2="197.10" y2="69.58" stroke="#777" stroke-width="0.9" stroke-linecap="butt"/>
<line x1="194.30" y1="65.87" x2="197.10" y2="65.87" stroke="#666" stroke-width="0.9" stroke-linecap="butt"/>
<line x1="195.40" y1="62.16" x2="197.10" y2="62.16" stroke="#777" stroke-width="0.9" stroke-linecap="butt"/>
<line x1="195.40" y1="58.44" x2="197.10" y2="58.44" stroke="#777" stroke-width="0.9" stroke-linecap="butt"/>
<line x1="195.40" y1="54.73" x2="197.10" y2="54.73" stroke="#777" stroke-width="0.9" stroke-linecap="butt"/>
<line x1="195.40" y1="51.02" x2="197.10" y2="51.02" stroke="#777" stroke-width="0.9" stroke-linecap="butt"/>
<line x1="194.30" y1="47.30" x2="197.10" y2="47.30" stroke="#666" stroke-width="0.9" stroke-linecap="butt"/>
<line x1="195.40" y1="43.59" x2="197.10" y2="43.59" stroke="#777" stroke-width="0.9" stroke-linecap="butt"/>
<line x1="195.40" y1="39.88" x2="197.10" y2="39.88" stroke="#777" stroke-width="0.9" stroke-linecap="butt"/>
<line x1="195.40" y1="36.17" x2="197.10" y2="36.17" stroke="#777" stroke-width="0.9" stroke-linecap="butt"/>
<line x1="199.50" y1="172.40" x2="331.70" y2="172.40" stroke="#a8a8a8" stroke-width="1.1" stroke-linecap="butt"/>
<line x1="199.25" y1="172.40" x2="199.25" y2="174.00" stroke="#777" stroke-width="0.9" stroke-linecap="butt"/>
<line x1="202.90" y1="172.40" x2="202.90" y2="174.00" stroke="#777" stroke-width="0.9" stroke-linecap="butt"/>
<line x1="206.55" y1="172.40" x2="206.55" y2="174.00" stroke="#777" stroke-width="0.9" stroke-linecap="butt"/>
<line x1="210.20" y1="172.40" x2="210.20" y2="175.00" stroke="#666" stroke-width="0.9" stroke-linecap="butt"/>
<line x1="213.86" y1="172.40" x2="213.86" y2="174.00" stroke="#777" stroke-width="0.9" stroke-linecap="butt"/>
<line x1="217.51" y1="172.40" x2="217.51" y2="174.00" stroke="#777" stroke-width="0.9" stroke-linecap="butt"/>
<line x1="221.16" y1="172.40" x2="221.16" y2="174.00" stroke="#777" stroke-width="0.9" stroke-linecap="butt"/>
<line x1="224.82" y1="172.40" x2="224.82" y2="174.00" stroke="#777" stroke-width="0.9" stroke-linecap="butt"/>
<line x1="228.47" y1="172.40" x2="228.47" y2="175.00" stroke="#666" stroke-width="0.9" stroke-linecap="butt"/>
<line x1="232.12" y1="172.40" x2="232.12" y2="174.00" stroke="#777" stroke-width="0.9" stroke-linecap="butt"/>
<line x1="235.78" y1="172.40" x2="235.78" y2="174.00" stroke="#777" stroke-width="0.9" stroke-linecap="butt"/>
<line x1="239.43" y1="172.40" x2="239.43" y2="174.00" stroke="#777" stroke-width="0.9" stroke-linecap="butt"/>
<line x1="243.08" y1="172.40" x2="243.08" y2="174.00" stroke="#777" stroke-width="0.9" stroke-linecap="butt"/>
<line x1="246.74" y1="172.40" x2="246.74" y2="175.00" stroke="#666" stroke-width="0.9" stroke-linecap="butt"/>
<line x1="250.39" y1="172.40" x2="250.39" y2="174.00" stroke="#777" stroke-width="0.9" stroke-linecap="butt"/>
<line x1="254.04" y1="172.40" x2="254.04" y2="174.00" stroke="#777" stroke-width="0.9" stroke-linecap="butt"/>
<line x1="257.69" y1="172.40" x2="257.69" y2="174.00" stroke="#777" stroke-width="0.9" stroke-linecap="butt"/>
<line x1="261.35" y1="172.40" x2="261.35" y2="174.00" stroke="#777" stroke-width="0.9" stroke-linecap="butt"/>
<line x1="265.00" y1="172.40" x2="265.00" y2="175.00" stroke="#666" stroke-width="0.9" stroke-linecap="butt"/>
<line x1="268.65" y1="172.40" x2="268.65" y2="174.00" stroke="#777" stroke-width="0.9" stroke-linecap="butt"/>
<line x1="272.31" y1="172.40" x2="272.31" y2="174.00" stroke="#777" stroke-width="0.9" stroke-linecap="butt"/>
<line x1="275.96" y1="172.40" x2="275.96" y2="174.00" stroke="#777" stroke-width="0.9" stroke-linecap="butt"/>
<line x1="279.61" y1="172.40" x2="279.61" y2="174.00" stroke="#777" stroke-width="0.9" stroke-linecap="butt"/>
<line x1="283.26" y1="172.40" x2="283.26" y2="175.00" stroke="#666" stroke-width="0.9" stroke-linecap="butt"/>
<line x1="286.92" y1="172.40" x2="286.92" y2="174.00" stroke="#777" stroke-width="0.9" stroke-linecap="butt"/>
<line x1="290.57" y1="172.40" x2="290.57" y2="174.00" stroke="#777" stroke-width="0.9" stroke-linecap="butt"/>
<line x1="294.22" y1="172.40" x2="294.22" y2="174.00" stroke="#777" stroke-width="0.9" stroke-linecap="butt"/>
<line x1="297.88" y1="172.40" x2="297.88" y2="174.00" stroke="#777" stroke-width="0.9" stroke-linecap="butt"/>
<line x1="301.53" y1="172.40" x2="301.53" y2="175.00" stroke="#666" stroke-width="0.9" stroke-linecap="butt"/>
<line x1="305.18" y1="172.40" x2="305.18" y2="174.00" stroke="#777" stroke-width="0.9" stroke-linecap="butt"/>
<line x1="308.84" y1="172.40" x2="308.84" y2="174.00" stroke="#777" stroke-width="0.9" stroke-linecap="butt"/>
<line x1="312.49" y1="172.40" x2="312.49" y2="174.00" stroke="#777" stroke-width="0.9" stroke-linecap="butt"/>
<line x1="316.14" y1="172.40" x2="316.14" y2="174.00" stroke="#777" stroke-width="0.9" stroke-linecap="butt"/>
<line x1="319.80" y1="172.40" x2="319.80" y2="175.00" stroke="#666" stroke-width="0.9" stroke-linecap="butt"/>
<line x1="323.45" y1="172.40" x2="323.45" y2="174.00" stroke="#777" stroke-width="0.9" stroke-linecap="butt"/>
<line x1="327.10" y1="172.40" x2="327.10" y2="174.00" stroke="#777" stroke-width="0.9" stroke-linecap="butt"/>
<line x1="330.75" y1="172.40" x2="330.75" y2="174.00" stroke="#777" stroke-width="0.9" stroke-linecap="butt"/>
<text transform="translate(193.40,51.20) scale(0.85,1)" x="0" y="0" font-family="Liberation Sans, sans-serif" font-weight="normal" font-size="11" text-anchor="end" fill="#000">15</text>
<text transform="translate(193.40,69.77) scale(0.85,1)" x="0" y="0" font-family="Liberation Sans, sans-serif" font-weight="normal" font-size="11" text-anchor="end" fill="#000">10</text>
<text transform="translate(193.40,88.34) scale(0.85,1)" x="0" y="0" font-family="Liberation Sans, sans-serif" font-weight="normal" font-size="11" text-anchor="end" fill="#000">5</text>
<text transform="translate(193.40,106.90) scale(0.85,1)" x="0" y="0" font-family="Liberation Sans, sans-serif" font-weight="normal" font-size="11" text-anchor="end" fill="#000">0</text>
<text transform="translate(193.40,125.47) scale(0.85,1)" x="0" y="0" font-family="Liberation Sans, sans-serif" font-weight="normal" font-size="11" text-anchor="end" fill="#000">-5</text>
<text transform="translate(193.40,144.03) scale(0.85,1)" x="0" y="0" font-family="Liberation Sans, sans-serif" font-weight="normal" font-size="11" text-anchor="end" fill="#000">-10</text>
<text transform="translate(193.40,162.59) scale(0.85,1)" x="0" y="0" font-family="Liberation Sans, sans-serif" font-weight="normal" font-size="11" text-anchor="end" fill="#000">-15</text>
<text transform="translate(208.15,184.20) scale(0.85,1)" x="0" y="0" font-family="Liberation Sans, sans-serif" font-weight="normal" font-size="11" text-anchor="middle" fill="#000">-15</text>
<text transform="translate(227.30,184.20) scale(0.85,1)" x="0" y="0" font-family="Liberation Sans, sans-serif" font-weight="normal" font-size="11" text-anchor="middle" fill="#000">-10</text>
<text transform="translate(248.25,184.20) scale(0.85,1)" x="0" y="0" font-family="Liberation Sans, sans-serif" font-weight="normal" font-size="11" text-anchor="middle" fill="#000">-5</text>
<text transform="translate(265.00,184.20) scale(0.85,1)" x="0" y="0" font-family="Liberation Sans, sans-serif" font-weight="normal" font-size="11" text-anchor="middle" fill="#000">0</text>
<text transform="translate(283.00,184.20) scale(0.85,1)" x="0" y="0" font-family="Liberation Sans, sans-serif" font-weight="normal" font-size="11" text-anchor="middle" fill="#000">5</text>
<text transform="translate(301.10,184.20) scale(0.85,1)" x="0" y="0" font-family="Liberation Sans, sans-serif" font-weight="normal" font-size="11" text-anchor="middle" fill="#000">10</text>
<text transform="translate(319.30,184.20) scale(0.85,1)" x="0" y="0" font-family="Liberation Sans, sans-serif" font-weight="normal" font-size="11" text-anchor="middle" fill="#000">15</text>
<text x="240.00" y="197.00" font-family="Liberation Sans, sans-serif" font-weight="normal" font-style="normal" font-size="10.8" text-anchor="start" fill="#000" >X axis [µm]</text>
<text transform="translate(177.50,101.90) rotate(-90)" x="0" y="0" font-family="Liberation Sans, sans-serif" font-weight="normal" font-size="10.4" text-anchor="middle" fill="#000">y axis [µm]</text>
<text x="210.90" y="27.90" font-family="Liberation Sans, sans-serif" font-weight="bold" font-style="normal" font-size="15" text-anchor="start" fill="#000" >TAMR EFM19</text>
<path d="M241.9,48.3 L242.1,51.0 L244.9,53.2 L245.4,60.4 L249.9,61.5 L252.6,67.6 L253.7,72.0 L255.9,76.4 L257.6,81.9 L260.9,83.0 L263.1,84.1 L263.6,88.5 L264.0,95.0 L264.5,102.0" stroke="#666" stroke-width="0.8" fill="none" stroke-linejoin="round"/>
<path d="M273.0,60.4 L273.0,66.5 L274.7,69.8 L274.1,73.1 L271.4,76.9 L268.6,81.9 L266.9,83.6 L265.3,86.3 L265.0,92.0 L264.5,100.0" stroke="#666" stroke-width="0.8" fill="none" stroke-linejoin="round"/>
<path d="M243.2,71.4 L246.5,72.0 L247.6,75.3 L247.6,81.9 L250.4,83.6 L250.4,89.6 L250.4,95.1 L252.1,97.3 L256.0,100.0 L262.0,103.0" stroke="#666" stroke-width="0.8" fill="none" stroke-linejoin="round"/>
<path d="M262.0,106.0 L258.0,110.0 L251.5,110.4 L243.2,113.7 L237.7,116.4 L239.0,118.0 L241.0,120.3 L242.0,126.0 L243.2,130.8 L248.8,129.1 L253.7,125.3 L259.8,122.5 L262.0,117.5" stroke="#777" stroke-width="0.8" fill="none" stroke-linejoin="round"/>
<path d="M262.0,100.0 L252.6,96.0 L253.2,101.5 L258.1,102.1 L250.4,105.4 L253.0,107.0 L260.0,106.0" stroke="#777" stroke-width="0.8" fill="none" stroke-linejoin="round"/>
<path d="M266.0,108.0 L279.1,114.0 L279.1,118.1 L278.5,124.2 L275.2,126.4 L276.3,129.1 L281.8,132.4 L284.0,136.8" stroke="#666" stroke-width="0.8" fill="none" stroke-linejoin="round"/>
<path d="M266.0,110.0 L264.0,116.0 L262.0,122.0 L261.0,127.0 L260.9,131.0" stroke="#777" stroke-width="0.8" fill="none" stroke-linejoin="round"/>
<path d="M264.6,99.2 L266.0,98.5 L267.3,97.6 L267.9,96.1 L269.4,95.5 L270.1,96.9 L271.7,97.3 L272.6,98.6 L274.2,98.5 L275.8,98.7 L277.4,98.4 L276.4,97.2 L277.7,98.1 L279.3,98.4 L280.9,98.6 L279.8,97.5 L278.7,96.3 L279.2,94.7 L280.4,93.7 L282.0,94.1 L283.5,93.7 L285.0,94.4 L285.9,93.0 L287.5,93.4 L289.0,93.7 L289.7,92.3 L289.3,93.8 L290.9,94.1 L292.2,95.0 L291.5,93.5 L292.9,92.2" stroke="#555" stroke-width="0.7" fill="none" stroke-linejoin="round"/>
<path d="M266.4,98.5 L267.7,97.6 L268.7,98.8 L270.1,99.5 L271.6,99.0 L272.7,97.8 L274.2,97.3 L274.1,98.9 L275.3,97.9 L276.7,98.7 L277.9,99.8 L278.1,98.2 L279.7,98.7 L279.4,100.3 L278.7,98.9 L280.3,98.7 L281.9,99.0 L283.2,98.1 L284.2,99.4 L285.7,99.8 L286.2,98.3 L286.5,99.9 L287.3,101.3 L287.7,102.8 L287.4,104.4 L288.9,105.0 L290.5,105.1 L290.6,103.5 L291.7,104.6 L292.9,103.6 L294.4,103.0 L295.2,101.6 L296.7,101.0 L298.1,101.8 L296.5,102.2 L296.8,100.7 L298.2,100.0 L297.9,101.5 L296.3,101.8 L296.4,103.4 L296.3,101.8 L295.7,100.3 L296.0,101.9 L297.6,101.8 L299.2,101.9 L297.7,102.2 L296.4,103.2 L297.7,104.2 L298.4,104.3" stroke="#555" stroke-width="0.7" fill="none" stroke-linejoin="round"/>
<path d="M263.3,98.9 L262.2,100.0 L262.6,101.5 L263.3,103.0 L263.9,104.5 L264.5,103.0 L263.8,104.4 L263.8,106.0 L264.6,107.4 L264.4,105.9 L265.9,105.5 L266.1,107.1 L266.2,105.5 L267.7,106.1 L267.6,107.6 L268.5,106.3 L267.4,107.5 L268.1,108.9 L269.7,109.4 L270.8,110.6 L271.4,112.0 L272.8,112.8 L272.7,114.4 L274.1,113.8 L275.7,113.6 L275.7,115.2 L277.2,115.8 L278.5,114.8 L278.7,116.4 L278.2,117.9 L279.7,117.4 L280.2,115.9 L281.7,116.3 L283.3,116.6 L284.9,116.8 L284.1,118.2 L285.2,117.0 L284.7,118.5 L285.4,117.1 L286.9,116.5 L287.1,118.1 L286.9,119.7 L287.6,121.1 L289.2,121.4 L290.7,120.8 L291.2,120.3" stroke="#555" stroke-width="0.7" fill="none" stroke-linejoin="round"/>
<path d="M263.7,99.3 L265.2,98.9 L266.8,99.3 L268.1,100.2 L269.7,100.0 L270.9,101.1 L272.3,101.8 L271.7,103.3 L273.3,103.3 L274.4,102.1 L275.6,101.0 L277.1,100.6 L278.3,101.7 L279.4,100.6 L281.0,100.7 L281.0,102.3 L279.5,102.8 L279.1,101.3 L280.7,101.1 L282.3,101.0 L283.8,100.5 L284.3,98.9 L285.8,99.5 L286.2,98.2" stroke="#555" stroke-width="0.7" fill="none" stroke-linejoin="round"/>
<path d="M268.6,99.3 L267.1,99.8 L268.5,100.6 L269.9,99.8 L271.5,99.8 L273.1,99.6 L274.7,99.8 L273.2,99.3 L274.7,98.7 L275.0,100.3 L275.7,98.8 L277.3,99.1 L277.7,100.6 L278.5,102.1 L278.3,103.7 L277.7,102.2 L279.2,101.6 L280.7,101.1 L281.8,102.3 L282.3,103.8 L280.7,103.7 L281.5,105.2 L281.0,103.6 L282.3,104.6 L281.8,103.1 L283.4,103.3 L284.0,104.8 L285.4,104.1 L287.0,104.0 L288.4,104.9 L289.8,104.1 L290.8,102.8 L291.2,102.6" stroke="#555" stroke-width="0.7" fill="none" stroke-linejoin="round"/>
<path d="M269.7,101.6 L268.9,103.0 L267.3,102.7 L268.2,101.4 L268.5,103.0 L270.1,102.9 L271.6,103.6 L272.4,105.0 L273.8,105.8 L274.8,107.0 L274.8,105.4 L275.0,103.8 L275.8,105.2 L277.0,104.0 L278.1,103.0 L278.9,101.6 L278.1,103.0 L278.4,104.5 L277.7,106.0 L278.9,104.8 L280.3,105.4 L281.4,104.2 L281.5,105.8 L280.6,107.2 L281.7,106.0 L280.9,107.4 L281.4,108.9 L282.9,108.4 L282.0,107.1 L281.7,108.6 L283.2,108.3 L284.5,107.3 L285.6,108.5 L286.8,108.2" stroke="#555" stroke-width="0.7" fill="none" stroke-linejoin="round"/>
<path d="M269.2,104.5 L270.0,105.9 L269.5,107.4 L268.7,108.8 L268.0,110.2 L269.6,110.4 L271.0,109.6 L271.1,111.2 L272.5,111.9 L274.0,112.5 L273.6,114.0 L275.2,113.7 L274.0,112.6 L275.6,112.3 L275.3,110.7 L275.6,112.3 L276.9,113.3 L278.3,112.6 L279.8,113.3 L280.1,114.9 L281.7,115.0 L283.0,114.8" stroke="#555" stroke-width="0.7" fill="none" stroke-linejoin="round"/>
<path d="M264.1,101.4 L262.5,101.3 L260.9,101.2 L259.3,101.0 L260.6,102.0 L259.3,103.0 L260.6,102.0 L262.1,102.4 L263.4,101.6 L261.9,102.0 L263.5,102.4 L263.3,104.0 L263.5,105.5 L263.4,107.1 L264.2,108.5 L263.4,109.9 L262.1,109.1 L262.0,110.7 L261.1,112.0 L259.8,112.9 L260.8,114.2 L262.4,113.9 L263.2,115.3 L261.6,115.2 L263.0,114.5 L263.5,116.0 L262.0,115.5 L260.8,116.5 L262.0,117.5" stroke="#555" stroke-width="0.7" fill="none" stroke-linejoin="round"/>
<path d="M264.0,100.2 L264.1,101.8 L265.7,101.9 L267.2,101.4 L268.3,102.5 L267.0,103.4 L268.0,104.6 L269.4,105.4 L270.5,106.5 L272.1,106.6 L271.9,108.2 L273.3,109.0 L272.2,110.1 L273.4,109.1 L272.3,110.2 L272.8,111.7 L274.4,111.6 L272.9,111.9 L272.6,113.5 L274.1,112.9 L274.6,114.4 L273.2,115.1 L272.8,116.7 L271.2,116.4 L269.7,116.7 L268.3,117.5 L267.9,119.1 L268.6,120.3" stroke="#555" stroke-width="0.7" fill="none" stroke-linejoin="round"/>
<path d="M262.6,103.4 L261.7,104.7 L263.0,103.7 L261.6,104.5 L260.0,104.6 L260.6,106.1 L261.5,107.5 L260.1,106.6 L261.6,105.9 L260.8,107.3 L260.0,105.9 L261.4,106.6 L260.3,107.8 L258.8,107.1 L259.3,108.7 L258.6,110.1 L257.4,111.2 L259.0,111.6 L259.5,113.2 L259.3,114.7 L258.3,116.0 L259.0,117.4 L259.9,118.7 L261.5,118.9 L262.1,120.4 L260.6,120.9 L261.0,122.5 L261.4,123.0" stroke="#555" stroke-width="0.7" fill="none" stroke-linejoin="round"/>
<path d="M267.0,102.1 L268.0,100.8 L266.6,100.0 L265.0,100.3 L266.3,99.3 L264.7,99.6 L263.3,100.3 L262.2,99.2 L261.0,100.2 L260.6,101.8 L259.3,102.7 L260.8,102.2 L259.2,102.3 L258.3,103.6 L259.3,104.9 L257.8,104.6 L256.3,103.9 L257.9,103.6 L258.9,104.8 L258.1,106.2 L257.6,107.7 L258.3,109.1 L257.6,110.1" stroke="#555" stroke-width="0.7" fill="none" stroke-linejoin="round"/>
<path d="M262.6,105.5 L261.1,106.2 L259.8,107.0 L258.5,108.0 L260.0,107.5 L260.6,106.0 L262.0,105.3 L262.0,103.7 L260.5,104.3 L259.6,103.0 L259.9,104.6 L258.3,104.8 L257.1,103.7 L256.8,102.2 L255.2,102.3 L253.9,101.3 L253.6,99.7 L253.0,98.2 L252.6,96.7 L251.4,95.7 L249.8,95.7 L249.6,94.1 L248.2,94.6" stroke="#555" stroke-width="0.7" fill="none" stroke-linejoin="round"/>
<path d="M268.1,100.3 L266.6,99.6 L266.1,98.1 L265.3,96.7 L265.0,95.1 L264.4,93.7 L264.1,92.1 L263.3,90.7 L261.7,91.0 L262.1,89.5 L263.4,88.4 L263.3,86.8 L262.1,85.8 L262.0,84.2 L260.5,84.7 L259.3,85.8 L259.7,84.3 L260.0,82.5" stroke="#555" stroke-width="0.7" fill="none" stroke-linejoin="round"/>
<path d="M262.4,106.1 L261.7,104.3 L263.6,104.1 L262.5,105.7 L263.5,104.0 L263.0,102.2 L261.7,100.8" stroke="#666" stroke-width="0.75" fill="none" stroke-linejoin="round"/>
<path d="M285.0,101.0 L285.9,99.3 L287.8,99.5 L286.5,98.2 L287.9,96.9 L286.2,97.7 L287.9,98.3" stroke="#666" stroke-width="0.75" fill="none" stroke-linejoin="round"/>
<path d="M274.1,96.0 L273.8,97.9 L273.9,99.8 L273.3,101.6 L271.5,102.1 L272.6,103.7 L270.8,104.3" stroke="#444" stroke-width="0.75" fill="none" stroke-linejoin="round"/>
<path d="M264.5,105.7 L266.4,105.5 L265.5,107.2 L267.4,107.6 L268.8,106.4 L269.2,108.2 L269.9,109.9" stroke="#444" stroke-width="0.75" fill="none" stroke-linejoin="round"/>
<path d="M263.0,106.2 L261.1,106.2 L261.7,108.0 L259.8,107.9 L261.7,108.0 L261.5,109.9 L263.1,110.9" stroke="#666" stroke-width="0.75" fill="none" stroke-linejoin="round"/>
<path d="M262.9,99.1 L262.3,101.0 L261.0,99.6 L262.6,100.5 L264.5,100.0 L265.6,98.5 L266.7,100.1" stroke="#666" stroke-width="0.75" fill="none" stroke-linejoin="round"/>
<path d="M268.9,93.3 L267.0,93.3 L266.6,95.2 L265.2,93.9 L266.3,95.4 L267.2,93.7 L266.8,91.8" stroke="#666" stroke-width="0.75" fill="none" stroke-linejoin="round"/>
<path d="M266.9,92.0 L268.1,93.5 L266.2,93.2 L264.3,93.1 L265.3,91.5 L265.9,89.7 L266.8,88.0" stroke="#222" stroke-width="0.75" fill="none" stroke-linejoin="round"/>
<path d="M269.5,102.8 L268.3,101.4 L270.1,100.9 L268.8,102.2 L266.9,102.8 L268.7,103.4 L270.6,103.6" stroke="#222" stroke-width="0.75" fill="none" stroke-linejoin="round"/>
<path d="M267.5,102.0 L268.1,100.2 L268.1,98.3 L266.2,98.3 L264.3,97.9 L263.3,96.3 L265.0,97.0" stroke="#666" stroke-width="0.75" fill="none" stroke-linejoin="round"/>
<path d="M268.0,104.2 L267.8,106.1 L267.5,104.2 L268.1,106.0 L267.9,104.1 L269.8,103.8 L267.9,103.9" stroke="#666" stroke-width="0.75" fill="none" stroke-linejoin="round"/>
<path d="M279.7,107.6 L279.2,109.5 L281.1,110.0 L279.8,108.6 L280.4,110.4 L278.8,109.3 L277.9,110.9" stroke="#444" stroke-width="0.75" fill="none" stroke-linejoin="round"/>
<path d="M265.7,100.0 L263.8,100.2 L261.9,100.3 L263.8,100.0 L265.3,101.1 L265.7,103.0 L263.8,103.1" stroke="#444" stroke-width="0.75" fill="none" stroke-linejoin="round"/>
<path d="M261.4,103.4 L262.8,104.6 L264.3,103.5 L264.9,105.3 L266.8,105.0 L268.6,104.3 L270.4,104.5" stroke="#666" stroke-width="0.75" fill="none" stroke-linejoin="round"/>
<path d="M274.3,105.0 L276.2,105.0 L278.1,104.9 L276.7,106.1 L278.3,105.2 L280.0,104.4 L281.7,105.2" stroke="#000" stroke-width="0.75" fill="none" stroke-linejoin="round"/>
<path d="M272.6,107.2 L274.4,106.7 L275.7,108.1 L276.5,106.3 L274.6,106.2 L276.0,105.0 L275.5,103.2" stroke="#222" stroke-width="0.75" fill="none" stroke-linejoin="round"/>
<path d="M255.7,102.1 L254.2,103.3 L255.3,104.9 L257.1,104.3 L256.3,102.6 L254.7,103.7 L254.4,101.8" stroke="#666" stroke-width="0.75" fill="none" stroke-linejoin="round"/>
<path d="M265.1,106.0 L266.1,104.4 L268.0,104.4 L268.0,102.5 L269.0,100.9 L270.4,102.2 L272.1,101.3" stroke="#000" stroke-width="0.75" fill="none" stroke-linejoin="round"/>
<path d="M272.0,99.4 L270.7,100.7 L269.2,101.9 L271.1,101.9 L269.5,100.9 L268.3,102.3 L266.6,103.2" stroke="#444" stroke-width="0.75" fill="none" stroke-linejoin="round"/>
<path d="M271.0,98.5 L272.8,99.1 L271.8,97.4 L270.5,96.0 L271.6,97.6 L273.5,97.2 L271.8,98.0" stroke="#444" stroke-width="0.75" fill="none" stroke-linejoin="round"/>
<path d="M270.1,106.9 L272.0,106.4 L273.4,105.2 L274.1,103.4 L272.8,102.0 L274.4,101.0 L276.2,100.3" stroke="#222" stroke-width="0.75" fill="none" stroke-linejoin="round"/>
<path d="M267.6,100.3 L267.4,98.4 L265.6,99.0 L265.6,97.1 L264.5,95.6 L264.1,97.4 L265.9,98.0" stroke="#222" stroke-width="0.75" fill="none" stroke-linejoin="round"/>
<path d="M271.0,107.0 L270.6,108.9 L270.5,110.8 L270.4,108.9 L269.3,107.3 L267.7,108.4 L267.9,110.3" stroke="#666" stroke-width="0.75" fill="none" stroke-linejoin="round"/>
<path d="M262.4,100.1 L263.3,101.7 L264.3,103.3 L264.8,105.2 L266.4,104.1 L264.5,104.1 L264.9,106.0" stroke="#444" stroke-width="0.75" fill="none" stroke-linejoin="round"/>
<path d="M274.6,101.9 L275.8,103.3 L276.4,105.1 L278.0,106.1 L277.0,107.7 L278.6,108.8 L278.7,110.6" stroke="#444" stroke-width="0.75" fill="none" stroke-linejoin="round"/>
<path d="M269.5,98.6 L271.4,98.8 L272.7,97.4 L271.3,98.7 L271.2,96.8 L271.7,98.6 L271.4,100.5" stroke="#000" stroke-width="0.75" fill="none" stroke-linejoin="round"/>
<path d="M260.2,102.1 L258.9,103.5 L258.2,101.8 L256.3,101.4 L256.8,99.6 L257.9,98.1 L259.5,99.1" stroke="#222" stroke-width="0.75" fill="none" stroke-linejoin="round"/>
<path d="M261.5,107.3 L259.8,108.0 L259.1,109.8 L259.8,108.1 L261.7,107.7 L263.0,109.0 L261.3,109.9" stroke="#666" stroke-width="0.75" fill="none" stroke-linejoin="round"/>
<path d="M274.8,100.7 L276.5,101.6 L278.2,100.8 L280.0,99.9 L278.1,99.6 L276.2,100.0 L274.4,100.6" stroke="#000" stroke-width="0.75" fill="none" stroke-linejoin="round"/>
<path d="M268.6,105.1 L270.4,104.8 L271.9,106.0 L272.8,104.3 L272.2,102.5 L273.3,100.9 L274.8,99.8" stroke="#000" stroke-width="0.75" fill="none" stroke-linejoin="round"/>
<path d="M266.4,101.5 L266.8,99.6 L267.0,101.5 L268.6,100.6 L267.5,99.1 L266.8,100.9 L268.2,102.3" stroke="#444" stroke-width="0.75" fill="none" stroke-linejoin="round"/>
<path d="M261.7,101.0 L261.8,99.1 L263.4,100.2 L262.8,102.0 L264.6,101.3 L265.2,103.1 L265.1,105.0" stroke="#000" stroke-width="0.75" fill="none" stroke-linejoin="round"/>
<path d="M273.1,102.3 L271.2,102.8 L273.1,102.3 L271.9,100.8 L273.3,99.5 L271.4,99.8 L271.6,101.7" stroke="#222" stroke-width="0.75" fill="none" stroke-linejoin="round"/>
<path d="M274.1,103.0 L273.0,101.5 L274.7,102.1 L275.4,103.9 L276.8,102.7 L275.7,101.2 L277.3,102.1" stroke="#222" stroke-width="0.75" fill="none" stroke-linejoin="round"/>
<path d="M261.2,91.1 L261.5,93.0 L263.4,93.4 L262.4,95.0 L260.7,95.9 L259.9,94.2 L260.5,96.0" stroke="#444" stroke-width="0.75" fill="none" stroke-linejoin="round"/>
<path d="M267.5,95.5 L268.0,97.3 L269.9,97.0 L269.2,98.7 L270.0,97.0 L270.2,98.9 L270.6,100.8" stroke="#444" stroke-width="0.75" fill="none" stroke-linejoin="round"/>
<path d="M274.5,106.9 L273.0,105.7 L274.5,104.5 L272.7,104.7 L274.3,103.7 L276.0,104.3 L274.5,103.3" stroke="#666" stroke-width="0.75" fill="none" stroke-linejoin="round"/>
<path d="M269.2,102.4 L267.7,101.3 L266.0,102.3 L265.6,100.4 L266.3,102.2 L264.5,102.8 L264.1,100.9" stroke="#444" stroke-width="0.75" fill="none" stroke-linejoin="round"/>
<path d="M265.7,83.1 L267.5,82.3 L266.6,83.9 L267.3,85.7 L269.1,84.9 L269.0,83.0 L270.9,83.4" stroke="#666" stroke-width="0.75" fill="none" stroke-linejoin="round"/>
<path d="M277.2,88.5 L275.5,89.2 L276.9,90.4 L278.6,91.3 L280.3,92.2 L278.6,93.1 L280.0,91.8" stroke="#222" stroke-width="0.75" fill="none" stroke-linejoin="round"/>
<path d="M260.5,108.4 L259.8,110.2 L260.5,108.4 L262.1,109.4 L261.5,107.6 L262.2,109.4 L260.3,108.9" stroke="#666" stroke-width="0.75" fill="none" stroke-linejoin="round"/>
<path d="M270.0,106.9 L271.5,105.8 L273.4,106.1 L271.8,107.1 L272.5,105.4 L272.7,103.5 L274.5,104.0" stroke="#000" stroke-width="0.75" fill="none" stroke-linejoin="round"/>
<path d="M257.5,104.2 L259.2,104.9 L259.9,106.7 L261.6,107.5 L260.1,106.3 L258.9,107.7 L257.9,109.4" stroke="#000" stroke-width="0.75" fill="none" stroke-linejoin="round"/>
<path d="M267.3,110.7 L266.5,112.4 L266.2,114.3 L268.1,114.4 L268.2,112.5 L269.8,111.5 L268.5,110.1" stroke="#000" stroke-width="0.75" fill="none" stroke-linejoin="round"/>
<path d="M272.3,102.6 L270.5,102.9 L272.3,102.4 L274.1,101.9 L272.7,103.1 L272.7,105.0 L270.9,105.8" stroke="#666" stroke-width="0.75" fill="none" stroke-linejoin="round"/>
<path d="M272.7,106.8 L274.6,106.9 L276.3,106.1 L275.7,107.9 L275.0,106.1 L276.1,107.6 L276.3,109.5" stroke="#444" stroke-width="0.75" fill="none" stroke-linejoin="round"/>
<circle cx="241.90" cy="48.30" r="1.55" fill="#000"/>
<circle cx="273.00" cy="60.40" r="1.55" fill="#000"/>
<circle cx="243.20" cy="71.40" r="1.55" fill="#000"/>
<circle cx="260.00" cy="82.50" r="1.55" fill="#000"/>
<circle cx="248.20" cy="94.60" r="1.55" fill="#000"/>
<circle cx="280.20" cy="94.00" r="1.55" fill="#000"/>
<circle cx="286.20" cy="97.90" r="1.55" fill="#000"/>
<circle cx="292.90" cy="92.20" r="1.55" fill="#000"/>
<circle cx="298.40" cy="104.30" r="1.55" fill="#000"/>
<circle cx="291.20" cy="120.30" r="1.55" fill="#000"/>
<circle cx="284.00" cy="136.80" r="1.55" fill="#000"/>
<circle cx="262.00" cy="117.50" r="1.55" fill="#000"/>
<circle cx="268.60" cy="120.30" r="1.55" fill="#000"/>
<circle cx="261.40" cy="123.00" r="1.55" fill="#000"/>
<circle cx="257.60" cy="110.10" r="1.55" fill="#000"/>
<circle cx="283.00" cy="114.80" r="1.55" fill="#000"/>
<circle cx="272.50" cy="111.50" r="1.55" fill="#000"/>
<circle cx="277.40" cy="111.50" r="1.55" fill="#000"/>
<circle cx="286.20" cy="98.20" r="1.55" fill="#000"/>
<circle cx="291.20" cy="102.60" r="1.55" fill="#000"/>
<circle cx="280.20" cy="94.40" r="1.55" fill="#000"/>
<circle cx="286.80" cy="108.20" r="1.55" fill="#000"/>
<circle cx="261.72" cy="100.78" r="1.55" fill="#000"/>
<circle cx="269.94" cy="109.95" r="1.55" fill="#000"/>
<circle cx="266.77" cy="91.84" r="1.55" fill="#000"/>
<circle cx="265.01" cy="97.03" r="1.55" fill="#000"/>
<circle cx="263.79" cy="103.12" r="1.55" fill="#000"/>
<circle cx="275.50" cy="103.18" r="1.55" fill="#000"/>
<circle cx="266.60" cy="103.18" r="1.55" fill="#000"/>
<circle cx="265.86" cy="98.00" r="1.55" fill="#000"/>
<circle cx="278.74" cy="110.65" r="1.55" fill="#000"/>
<circle cx="261.32" cy="109.90" r="1.55" fill="#000"/>
<circle cx="268.17" cy="102.27" r="1.55" fill="#000"/>
<circle cx="277.34" cy="102.08" r="1.55" fill="#000"/>
<circle cx="274.47" cy="103.26" r="1.55" fill="#000"/>
<circle cx="280.03" cy="91.85" r="1.55" fill="#000"/>
<circle cx="257.91" cy="109.37" r="1.55" fill="#000"/>
<circle cx="276.31" cy="109.54" r="1.55" fill="#000"/>
</g>
<line x1="507.20" y1="37.00" x2="507.20" y2="181.90" stroke="#000" stroke-width="1.3" stroke-linecap="butt"/>
<line x1="501.30" y1="37.50" x2="507.20" y2="37.50" stroke="#000" stroke-width="1.3" stroke-linecap="butt"/>
<text x="499.30" y="41.10" font-family="Liberation Sans, sans-serif" font-weight="bold" font-style="normal" font-size="10.4" text-anchor="end" fill="#000" >0.15</text>
<line x1="501.30" y1="85.30" x2="507.20" y2="85.30" stroke="#000" stroke-width="1.3" stroke-linecap="butt"/>
<text x="499.30" y="88.90" font-family="Liberation Sans, sans-serif" font-weight="bold" font-style="normal" font-size="10.4" text-anchor="end" fill="#000" >0.10</text>
<line x1="501.30" y1="133.10" x2="507.20" y2="133.10" stroke="#000" stroke-width="1.3" stroke-linecap="butt"/>
<text x="499.30" y="136.70" font-family="Liberation Sans, sans-serif" font-weight="bold" font-style="normal" font-size="10.4" text-anchor="end" fill="#000" >0.05</text>
<line x1="501.30" y1="180.90" x2="507.20" y2="180.90" stroke="#000" stroke-width="1.3" stroke-linecap="butt"/>
<text x="499.30" y="184.50" font-family="Liberation Sans, sans-serif" font-weight="bold" font-style="normal" font-size="10.4" text-anchor="end" fill="#000" >0.00</text>
<line x1="506.60" y1="181.30" x2="604.60" y2="181.30" stroke="#000" stroke-width="1.3" stroke-linecap="butt"/>
<line x1="535.30" y1="181.20" x2="535.30" y2="187.20" stroke="#000" stroke-width="1.3" stroke-linecap="butt"/>
<line x1="575.40" y1="181.20" x2="575.40" y2="187.20" stroke="#000" stroke-width="1.3" stroke-linecap="butt"/>
<text transform="translate(537.50,195.80) rotate(-45)" x="0" y="0" font-family="Liberation Sans, sans-serif" font-weight="bold" font-size="11" text-anchor="end" fill="#000">EFM19</text>
<text transform="translate(578.40,196.20) rotate(-45)" x="0" y="0" font-family="Liberation Sans, sans-serif" font-weight="bold" font-size="11" text-anchor="end" fill="#000">TAMR EFM19</text>
<text transform="translate(469.40,109.20) rotate(-90)" x="0" y="0" font-family="Liberation Sans, sans-serif" font-weight="bold" font-size="12" text-anchor="middle" fill="#000">Migration speed (µm/min)</text>
<path d="M535.3,102.2 V51.6 H575.6 V59.9" stroke="#000" stroke-width="1.15" fill="none" />
<path d="M546.50,46.30 L546.50,39.70 M543.64,44.65 L549.36,41.35 M549.36,44.65 L543.64,41.35 " stroke="#000" stroke-width="1.1" fill="none" stroke-linecap="butt"/>
<path d="M555.40,46.30 L555.40,39.70 M552.54,44.65 L558.26,41.35 M558.26,44.65 L552.54,41.35 " stroke="#000" stroke-width="1.1" fill="none" stroke-linecap="butt"/>
<path d="M564.50,46.30 L564.50,39.70 M561.64,44.65 L567.36,41.35 M567.36,44.65 L561.64,41.35 " stroke="#000" stroke-width="1.1" fill="none" stroke-linecap="butt"/>
<circle cx="534.80" cy="110.00" r="1.7" stroke="#000" stroke-width="1.05" fill="#fff"/>
<circle cx="539.50" cy="112.90" r="1.7" stroke="#000" stroke-width="1.05" fill="#fff"/>
<circle cx="532.10" cy="116.00" r="1.7" stroke="#000" stroke-width="1.05" fill="#fff"/>
<circle cx="537.00" cy="116.60" r="1.7" stroke="#000" stroke-width="1.05" fill="#fff"/>
<circle cx="532.10" cy="120.40" r="1.7" stroke="#000" stroke-width="1.05" fill="#fff"/>
<circle cx="534.80" cy="122.60" r="1.7" stroke="#000" stroke-width="1.05" fill="#fff"/>
<circle cx="532.10" cy="126.50" r="1.7" stroke="#000" stroke-width="1.05" fill="#fff"/>
<circle cx="535.40" cy="128.70" r="1.7" stroke="#000" stroke-width="1.05" fill="#fff"/>
<circle cx="538.70" cy="130.90" r="1.7" stroke="#000" stroke-width="1.05" fill="#fff"/>
<circle cx="529.90" cy="134.20" r="1.7" stroke="#000" stroke-width="1.05" fill="#fff"/>
<circle cx="534.80" cy="135.90" r="1.7" stroke="#000" stroke-width="1.05" fill="#fff"/>
<circle cx="539.80" cy="133.70" r="1.7" stroke="#000" stroke-width="1.05" fill="#fff"/>
<circle cx="525.50" cy="138.00" r="1.7" stroke="#000" stroke-width="1.05" fill="#fff"/>
<circle cx="541.40" cy="137.50" r="1.7" stroke="#000" stroke-width="1.05" fill="#fff"/>
<circle cx="544.20" cy="140.30" r="1.7" stroke="#000" stroke-width="1.05" fill="#fff"/>
<circle cx="528.20" cy="140.30" r="1.7" stroke="#000" stroke-width="1.05" fill="#fff"/>
<circle cx="526.92" cy="139.10" r="1.7" stroke="#000" stroke-width="1.05" fill="#fff"/>
<circle cx="531.68" cy="138.95" r="1.7" stroke="#000" stroke-width="1.05" fill="#fff"/>
<circle cx="535.01" cy="139.14" r="1.7" stroke="#000" stroke-width="1.05" fill="#fff"/>
<circle cx="538.50" cy="139.02" r="1.7" stroke="#000" stroke-width="1.05" fill="#fff"/>
<circle cx="525.71" cy="142.87" r="1.7" stroke="#000" stroke-width="1.05" fill="#fff"/>
<circle cx="528.85" cy="142.09" r="1.7" stroke="#000" stroke-width="1.05" fill="#fff"/>
<circle cx="532.85" cy="142.90" r="1.7" stroke="#000" stroke-width="1.05" fill="#fff"/>
<circle cx="537.81" cy="141.67" r="1.7" stroke="#000" stroke-width="1.05" fill="#fff"/>
<circle cx="542.27" cy="143.14" r="1.7" stroke="#000" stroke-width="1.05" fill="#fff"/>
<circle cx="545.75" cy="142.58" r="1.7" stroke="#000" stroke-width="1.05" fill="#fff"/>
<circle cx="521.95" cy="145.02" r="1.7" stroke="#000" stroke-width="1.05" fill="#fff"/>
<circle cx="526.55" cy="145.10" r="1.7" stroke="#000" stroke-width="1.05" fill="#fff"/>
<circle cx="530.00" cy="145.39" r="1.7" stroke="#000" stroke-width="1.05" fill="#fff"/>
<circle cx="533.75" cy="145.74" r="1.7" stroke="#000" stroke-width="1.05" fill="#fff"/>
<circle cx="538.40" cy="146.35" r="1.7" stroke="#000" stroke-width="1.05" fill="#fff"/>
<circle cx="542.53" cy="146.02" r="1.7" stroke="#000" stroke-width="1.05" fill="#fff"/>
<circle cx="546.50" cy="146.06" r="1.7" stroke="#000" stroke-width="1.05" fill="#fff"/>
<circle cx="524.93" cy="148.85" r="1.7" stroke="#000" stroke-width="1.05" fill="#fff"/>
<circle cx="529.80" cy="149.99" r="1.7" stroke="#000" stroke-width="1.05" fill="#fff"/>
<circle cx="533.54" cy="149.53" r="1.7" stroke="#000" stroke-width="1.05" fill="#fff"/>
<circle cx="536.70" cy="148.77" r="1.7" stroke="#000" stroke-width="1.05" fill="#fff"/>
<circle cx="540.66" cy="148.51" r="1.7" stroke="#000" stroke-width="1.05" fill="#fff"/>
<circle cx="545.43" cy="149.04" r="1.7" stroke="#000" stroke-width="1.05" fill="#fff"/>
<circle cx="522.55" cy="152.42" r="1.7" stroke="#000" stroke-width="1.05" fill="#fff"/>
<circle cx="526.73" cy="153.16" r="1.7" stroke="#000" stroke-width="1.05" fill="#fff"/>
<circle cx="529.20" cy="152.14" r="1.7" stroke="#000" stroke-width="1.05" fill="#fff"/>
<circle cx="534.66" cy="152.55" r="1.7" stroke="#000" stroke-width="1.05" fill="#fff"/>
<circle cx="538.77" cy="152.44" r="1.7" stroke="#000" stroke-width="1.05" fill="#fff"/>
<circle cx="541.32" cy="152.81" r="1.7" stroke="#000" stroke-width="1.05" fill="#fff"/>
<circle cx="546.45" cy="152.23" r="1.7" stroke="#000" stroke-width="1.05" fill="#fff"/>
<circle cx="523.34" cy="155.73" r="1.7" stroke="#000" stroke-width="1.05" fill="#fff"/>
<circle cx="528.74" cy="156.41" r="1.7" stroke="#000" stroke-width="1.05" fill="#fff"/>
<circle cx="531.39" cy="155.59" r="1.7" stroke="#000" stroke-width="1.05" fill="#fff"/>
<circle cx="535.36" cy="155.30" r="1.7" stroke="#000" stroke-width="1.05" fill="#fff"/>
<circle cx="540.48" cy="155.48" r="1.7" stroke="#000" stroke-width="1.05" fill="#fff"/>
<circle cx="544.09" cy="155.92" r="1.7" stroke="#000" stroke-width="1.05" fill="#fff"/>
<circle cx="547.51" cy="156.37" r="1.7" stroke="#000" stroke-width="1.05" fill="#fff"/>
<circle cx="522.21" cy="159.43" r="1.7" stroke="#000" stroke-width="1.05" fill="#fff"/>
<circle cx="526.19" cy="159.07" r="1.7" stroke="#000" stroke-width="1.05" fill="#fff"/>
<circle cx="530.34" cy="158.83" r="1.7" stroke="#000" stroke-width="1.05" fill="#fff"/>
<circle cx="535.55" cy="159.69" r="1.7" stroke="#000" stroke-width="1.05" fill="#fff"/>
<circle cx="538.49" cy="159.82" r="1.7" stroke="#000" stroke-width="1.05" fill="#fff"/>
<circle cx="542.34" cy="159.03" r="1.7" stroke="#000" stroke-width="1.05" fill="#fff"/>
<circle cx="547.37" cy="159.43" r="1.7" stroke="#000" stroke-width="1.05" fill="#fff"/>
<line x1="521.00" y1="142.70" x2="549.00" y2="142.70" stroke="#222" stroke-width="1.4" stroke-linecap="butt"/>
<circle cx="576.60" cy="124.60" r="1.72" stroke="#f00" stroke-width="1.0" fill="#fff"/>
<circle cx="574.30" cy="127.90" r="1.72" stroke="#f00" stroke-width="1.0" fill="#fff"/>
<circle cx="575.60" cy="130.70" r="1.72" stroke="#f00" stroke-width="1.0" fill="#fff"/>
<circle cx="575.60" cy="135.60" r="1.72" stroke="#f00" stroke-width="1.0" fill="#fff"/>
<circle cx="578.20" cy="138.80" r="1.72" stroke="#f00" stroke-width="1.0" fill="#fff"/>
<circle cx="573.00" cy="141.40" r="1.72" stroke="#f00" stroke-width="1.0" fill="#fff"/>
<circle cx="578.80" cy="145.20" r="1.72" stroke="#f00" stroke-width="1.0" fill="#fff"/>
<circle cx="573.00" cy="143.90" r="1.72" stroke="#f00" stroke-width="1.0" fill="#fff"/>
<circle cx="575.60" cy="149.10" r="1.72" stroke="#f00" stroke-width="1.0" fill="#fff"/>
<circle cx="571.70" cy="151.70" r="1.72" stroke="#f00" stroke-width="1.0" fill="#fff"/>
<circle cx="579.50" cy="150.80" r="1.72" stroke="#f00" stroke-width="1.0" fill="#fff"/>
<circle cx="568.36" cy="152.98" r="1.72" stroke="#f00" stroke-width="1.0" fill="#fff"/>
<circle cx="572.74" cy="151.81" r="1.72" stroke="#f00" stroke-width="1.0" fill="#fff"/>
<circle cx="577.84" cy="151.93" r="1.72" stroke="#f00" stroke-width="1.0" fill="#fff"/>
<circle cx="581.27" cy="151.52" r="1.72" stroke="#f00" stroke-width="1.0" fill="#fff"/>
<circle cx="566.44" cy="155.33" r="1.72" stroke="#f00" stroke-width="1.0" fill="#fff"/>
<circle cx="570.89" cy="155.36" r="1.72" stroke="#f00" stroke-width="1.0" fill="#fff"/>
<circle cx="575.29" cy="155.13" r="1.72" stroke="#f00" stroke-width="1.0" fill="#fff"/>
<circle cx="580.43" cy="155.17" r="1.72" stroke="#f00" stroke-width="1.0" fill="#fff"/>
<circle cx="584.02" cy="155.79" r="1.72" stroke="#f00" stroke-width="1.0" fill="#fff"/>
<circle cx="562.29" cy="157.65" r="1.72" stroke="#f00" stroke-width="1.0" fill="#fff"/>
<circle cx="567.65" cy="158.71" r="1.72" stroke="#f00" stroke-width="1.0" fill="#fff"/>
<circle cx="570.80" cy="157.70" r="1.72" stroke="#f00" stroke-width="1.0" fill="#fff"/>
<circle cx="575.78" cy="158.90" r="1.72" stroke="#f00" stroke-width="1.0" fill="#fff"/>
<circle cx="579.11" cy="158.92" r="1.72" stroke="#f00" stroke-width="1.0" fill="#fff"/>
<circle cx="584.41" cy="158.37" r="1.72" stroke="#f00" stroke-width="1.0" fill="#fff"/>
<circle cx="587.87" cy="157.57" r="1.72" stroke="#f00" stroke-width="1.0" fill="#fff"/>
<circle cx="564.16" cy="161.94" r="1.72" stroke="#f00" stroke-width="1.0" fill="#fff"/>
<circle cx="568.68" cy="161.53" r="1.72" stroke="#f00" stroke-width="1.0" fill="#fff"/>
<circle cx="572.91" cy="161.72" r="1.72" stroke="#f00" stroke-width="1.0" fill="#fff"/>
<circle cx="577.65" cy="160.87" r="1.72" stroke="#f00" stroke-width="1.0" fill="#fff"/>
<circle cx="581.18" cy="161.55" r="1.72" stroke="#f00" stroke-width="1.0" fill="#fff"/>
<circle cx="585.21" cy="160.77" r="1.72" stroke="#f00" stroke-width="1.0" fill="#fff"/>
<circle cx="567.09" cy="164.76" r="1.72" stroke="#f00" stroke-width="1.0" fill="#fff"/>
<circle cx="571.38" cy="163.85" r="1.72" stroke="#f00" stroke-width="1.0" fill="#fff"/>
<circle cx="576.07" cy="163.73" r="1.72" stroke="#f00" stroke-width="1.0" fill="#fff"/>
<circle cx="578.83" cy="163.83" r="1.72" stroke="#f00" stroke-width="1.0" fill="#fff"/>
<circle cx="572.51" cy="166.60" r="1.72" stroke="#f00" stroke-width="1.0" fill="#fff"/>
<circle cx="576.28" cy="167.09" r="1.72" stroke="#f00" stroke-width="1.0" fill="#fff"/>
<circle cx="572.12" cy="169.91" r="1.72" stroke="#f00" stroke-width="1.0" fill="#fff"/>
<circle cx="575.98" cy="171.13" r="1.72" stroke="#f00" stroke-width="1.0" fill="#fff"/>
<circle cx="575.87" cy="173.95" r="1.72" stroke="#f00" stroke-width="1.0" fill="#fff"/>
<circle cx="574.31" cy="177.14" r="1.72" stroke="#f00" stroke-width="1.0" fill="#fff"/>
<circle cx="575.70" cy="180.20" r="1.72" stroke="#f00" stroke-width="1.0" fill="#fff"/>
<circle cx="575.80" cy="69.30" r="2.3" stroke="#f00" stroke-width="1.1" fill="#fff"/>
<line x1="562.00" y1="154.30" x2="589.50" y2="154.30" stroke="#222" stroke-width="1.4" stroke-linecap="butt"/>
<text x="65.20" y="312.10" font-family="Liberation Sans, sans-serif" font-weight="bold" font-style="normal" font-size="14.6" text-anchor="start" fill="#000" >EFM19</text>
<text x="132.00" y="312.10" font-family="Liberation Sans, sans-serif" font-weight="bold" font-style="normal" font-size="14.8" text-anchor="start" fill="#000" >TAMR EFM19</text>
<text x="9.30" y="372.10" font-family="Liberation Sans, sans-serif" font-weight="bold" font-style="normal" font-size="14" text-anchor="start" fill="#000" >0 h</text>
<text x="4.00" y="458.10" font-family="Liberation Sans, sans-serif" font-weight="bold" font-style="normal" font-size="14.5" text-anchor="start" fill="#000" >48 h</text>
<defs>
<filter id="nz0" x="0" y="0" width="100%" height="100%" color-interpolation-filters="sRGB"><feTurbulence type="fractalNoise" baseFrequency="0.45" numOctaves="2" seed="3"/><feColorMatrix type="matrix" values="0 0 0 0 1  0 0 0 0 1  0 0 0 0 1  3.0 0 0 0 -1.55"/><feGaussianBlur stdDeviation="0.45"/></filter>
<filter id="nz1" x="0" y="0" width="100%" height="100%" color-interpolation-filters="sRGB"><feTurbulence type="fractalNoise" baseFrequency="0.45" numOctaves="2" seed="5"/><feColorMatrix type="matrix" values="0 0 0 0 1  0 0 0 0 1  0 0 0 0 1  3.0 0 0 0 -1.45"/><feGaussianBlur stdDeviation="0.45"/></filter>
<filter id="nz2" x="0" y="0" width="100%" height="100%" color-interpolation-filters="sRGB"><feTurbulence type="fractalNoise" baseFrequency="0.45" numOctaves="2" seed="8"/><feColorMatrix type="matrix" values="0 0 0 0 1  0 0 0 0 1  0 0 0 0 1  3.0 0 0 0 -1.4"/><feGaussianBlur stdDeviation="0.45"/></filter>
<filter id="nz3" x="0" y="0" width="100%" height="100%" color-interpolation-filters="sRGB"><feTurbulence type="fractalNoise" baseFrequency="0.45" numOctaves="2" seed="9"/><feColorMatrix type="matrix" values="0 0 0 0 1  0 0 0 0 1  0 0 0 0 1  3.0 0 0 0 -1.45"/><feGaussianBlur stdDeviation="0.45"/></filter>
<clipPath id="cl22"><path d="M134.0,410.0 L160.0,410.0 L160.0,412.0 L156.3,418.4 L157.2,424.8 L160.0,430.4 L161.8,438.6 L158.1,446.0 L155.4,453.3 L158.1,460.7 L159.0,468.0 L159.0,473.6 L163.6,481.0 L164.6,486.5 L161.8,493.8 L161.5,498.0 L134.0,498.0 Z"/><path d="M194.0,410.0 L194.0,412.9 L194.9,418.4 L192.1,423.9 L189.4,430.4 L188.5,434.0 L190.3,441.4 L189.4,447.8 L193.1,455.2 L194.0,462.5 L191.2,469.9 L190.3,477.3 L194.0,484.6 L195.8,492.0 L196.0,498.0 L221.0,498.0 L221.0,410.0 Z"/></clipPath>
</defs>
<rect x="42.85" y="320.15" width="86.80" height="86.60" rx="1.5" fill="#878984"/>
<rect x="43" y="320" width="87" height="87" fill="#fff" filter="url(#nz0)" opacity="0.12"/>
<rect x="133.95" y="320.15" width="87.20" height="86.60" rx="1.5" fill="#868883"/>
<rect x="134" y="320" width="20" height="87" fill="#959792"/>
<rect x="134" y="320" width="20" height="87" fill="#fff" filter="url(#nz1)" opacity="0.4"/>
<rect x="193" y="320" width="28" height="87" fill="#959792"/>
<rect x="193" y="320" width="28" height="87" fill="#fff" filter="url(#nz1)" opacity="0.4"/>
<rect x="42.85" y="410.35" width="86.80" height="87.70" rx="1.5" fill="#9a9d98"/>
<rect x="43" y="410" width="87" height="88" fill="#fff" filter="url(#nz2)" opacity="0.3"/>
<rect x="133.95" y="410.35" width="87.20" height="87.70" rx="1.5" fill="#8e918c"/>
<rect x="160" y="410" width="35" height="88" fill="#fff" filter="url(#nz3)" opacity="0.12"/>
<g clip-path="url(#cl22)">
<rect x="134" y="410" width="87" height="88" fill="#9b9e99"/>
<rect x="134" y="410" width="87" height="88" fill="#fff" filter="url(#nz3)" opacity="0.35"/>
</g>
<rect x="42.85" y="320.15" width="86.80" height="86.60" rx="1.5" fill="none" stroke="#222" stroke-width="1.6"/>
<rect x="133.95" y="320.15" width="87.20" height="86.60" rx="1.5" fill="none" stroke="#222" stroke-width="1.6"/>
<rect x="42.85" y="410.35" width="86.80" height="87.70" rx="1.5" fill="none" stroke="#222" stroke-width="1.6"/>
<rect x="133.95" y="410.35" width="87.20" height="87.70" rx="1.5" fill="none" stroke="#222" stroke-width="1.6"/>
<line x1="71.80" y1="320.50" x2="71.80" y2="406.50" stroke="#fff" stroke-width="1.6" stroke-linecap="butt"/>
<line x1="103.00" y1="320.50" x2="103.00" y2="406.50" stroke="#fff" stroke-width="1.6" stroke-linecap="butt"/>
<line x1="153.90" y1="320.50" x2="153.90" y2="406.50" stroke="#fff" stroke-width="1.6" stroke-linecap="butt"/>
<line x1="193.10" y1="320.50" x2="193.10" y2="406.50" stroke="#fff" stroke-width="1.6" stroke-linecap="butt"/>
<line x1="114.00" y1="397.30" x2="126.00" y2="397.30" stroke="#fff" stroke-width="1.8" stroke-linecap="butt"/>
<text x="120.00" y="403.20" font-family="Liberation Sans, sans-serif" font-weight="normal" font-style="normal" font-size="3.6" text-anchor="middle" fill="#e8e8e8" >200 µm</text>
<line x1="121.50" y1="493.00" x2="126.50" y2="493.00" stroke="#ddd" stroke-width="1.2" stroke-linecap="butt"/>
<line x1="212.00" y1="493.00" x2="218.50" y2="493.00" stroke="#ddd" stroke-width="1.2" stroke-linecap="butt"/>
<path d="M79.1,412.0 L77.3,418.4 L73.6,423.9 L72.7,430.3 L74.5,436.8 L76.4,444.1 L74.5,450.6 L73.2,457.0 L73.6,464.3 L74.5,473.5 L75.4,482.7 L76.4,493.8" stroke="#fff" stroke-width="2.3" fill="none" stroke-dasharray="0.1 3.6" stroke-linecap="round" stroke-linejoin="round"/>
<path d="M96.6,412.0 L95.7,418.4 L97.5,423.9 L99.3,430.3 L100.3,436.8 L99.3,444.1 L99.0,450.6 L99.3,457.0 L98.4,464.3 L98.4,473.5 L101.2,482.7 L105.8,493.8" stroke="#fff" stroke-width="2.3" fill="none" stroke-dasharray="0.1 3.6" stroke-linecap="round" stroke-linejoin="round"/>
<path d="M160.0,412.0 L156.3,418.4 L157.2,424.8 L160.0,430.4 L161.8,438.6 L158.1,446.0 L155.4,453.3 L158.1,460.7 L159.0,468.0 L159.0,473.6 L163.6,481.0 L164.6,486.5 L161.8,493.8" stroke="#fff" stroke-width="2.3" fill="none" stroke-dasharray="0.1 3.6" stroke-linecap="round" stroke-linejoin="round"/>
<path d="M194.0,412.9 L194.9,418.4 L192.1,423.9 L189.4,430.4 L188.5,434.0 L190.3,441.4 L189.4,447.8 L193.1,455.2 L194.0,462.5 L191.2,469.9 L190.3,477.3 L194.0,484.6 L195.8,492.0" stroke="#fff" stroke-width="2.3" fill="none" stroke-dasharray="0.1 3.6" stroke-linecap="round" stroke-linejoin="round"/>
<line x1="290.90" y1="327.40" x2="290.90" y2="478.20" stroke="#000" stroke-width="1.3" stroke-linecap="butt"/>
<line x1="284.70" y1="328.30" x2="290.90" y2="328.30" stroke="#000" stroke-width="1.3" stroke-linecap="butt"/>
<text x="282.60" y="331.90" font-family="Liberation Sans, sans-serif" font-weight="bold" font-style="normal" font-size="10.4" text-anchor="end" fill="#000" >40</text>
<line x1="284.70" y1="365.55" x2="290.90" y2="365.55" stroke="#000" stroke-width="1.3" stroke-linecap="butt"/>
<text x="282.60" y="369.15" font-family="Liberation Sans, sans-serif" font-weight="bold" font-style="normal" font-size="10.4" text-anchor="end" fill="#000" >30</text>
<line x1="284.70" y1="402.80" x2="290.90" y2="402.80" stroke="#000" stroke-width="1.3" stroke-linecap="butt"/>
<text x="282.60" y="406.40" font-family="Liberation Sans, sans-serif" font-weight="bold" font-style="normal" font-size="10.4" text-anchor="end" fill="#000" >20</text>
<line x1="284.70" y1="440.05" x2="290.90" y2="440.05" stroke="#000" stroke-width="1.3" stroke-linecap="butt"/>
<text x="282.60" y="443.65" font-family="Liberation Sans, sans-serif" font-weight="bold" font-style="normal" font-size="10.4" text-anchor="end" fill="#000" >10</text>
<line x1="284.70" y1="477.30" x2="290.90" y2="477.30" stroke="#000" stroke-width="1.3" stroke-linecap="butt"/>
<text x="282.60" y="480.90" font-family="Liberation Sans, sans-serif" font-weight="bold" font-style="normal" font-size="10.4" text-anchor="end" fill="#000" >0</text>
<line x1="284.70" y1="477.30" x2="391.80" y2="477.30" stroke="#000" stroke-width="1.3" stroke-linecap="butt"/>
<line x1="319.30" y1="477.30" x2="319.30" y2="484.00" stroke="#000" stroke-width="1.3" stroke-linecap="butt"/>
<line x1="361.80" y1="477.30" x2="361.80" y2="484.00" stroke="#000" stroke-width="1.3" stroke-linecap="butt"/>
<path d="M306.80,477.3 V401.50 H331.90 V477.3" stroke="#000" stroke-width="3.2" fill="none" />
<line x1="319.10" y1="386.30" x2="319.10" y2="412.70" stroke="#000" stroke-width="1.3" stroke-linecap="butt"/>
<line x1="311.80" y1="386.30" x2="326.20" y2="386.30" stroke="#000" stroke-width="1.3" stroke-linecap="butt"/>
<line x1="311.80" y1="412.70" x2="326.20" y2="412.70" stroke="#000" stroke-width="1.3" stroke-linecap="butt"/>
<circle cx="319.10" cy="363.10" r="2.1" stroke="#000" stroke-width="1.1" fill="#fff"/>
<circle cx="319.10" cy="396.00" r="2.1" stroke="#000" stroke-width="1.1" fill="#fff"/>
<circle cx="315.20" cy="421.60" r="2.1" stroke="#000" stroke-width="1.1" fill="#fff"/>
<circle cx="324.00" cy="417.60" r="2.1" stroke="#000" stroke-width="1.1" fill="#fff"/>
<path d="M349.20,477.3 V459.50 H375.30 V477.3" stroke="#f00" stroke-width="2" fill="none" />
<line x1="357.50" y1="456.30" x2="368.00" y2="456.30" stroke="#111" stroke-width="1.2" stroke-linecap="butt"/>
<line x1="362.60" y1="456.30" x2="362.60" y2="459.50" stroke="#111" stroke-width="1.2" stroke-linecap="butt"/>
<circle cx="353.80" cy="462.20" r="2.05" stroke="#f00" stroke-width="1.1" fill="#fff"/>
<circle cx="362.60" cy="457.80" r="2.05" stroke="#f00" stroke-width="1.1" fill="#fff"/>
<circle cx="371.40" cy="453.60" r="2.05" stroke="#f00" stroke-width="1.1" fill="#fff"/>
<path d="M319.1,354.7 V345.2 H361.9 V445.2" stroke="#000" stroke-width="1.1" fill="none" />
<path d="M336.40,338.20 L336.40,331.60 M333.54,336.55 L339.26,333.25 M339.26,336.55 L333.54,333.25 " stroke="#000" stroke-width="1.1" fill="none" stroke-linecap="butt"/>
<path d="M345.40,338.20 L345.40,331.60 M342.54,336.55 L348.26,333.25 M348.26,336.55 L342.54,333.25 " stroke="#000" stroke-width="1.1" fill="none" stroke-linecap="butt"/>
<text transform="translate(262.00,403.10) rotate(-90)" x="0" y="0" font-family="Liberation Sans, sans-serif" font-weight="bold" font-size="12.2" text-anchor="middle" fill="#000">% Wound closure</text>
<text transform="translate(322.70,491.50) rotate(-45)" x="0" y="0" font-family="Liberation Sans, sans-serif" font-weight="bold" font-size="11" text-anchor="end" fill="#000">EFM19</text>
<text transform="translate(365.10,491.50) rotate(-45)" x="0" y="0" font-family="Liberation Sans, sans-serif" font-weight="bold" font-size="11" text-anchor="end" fill="#000">TAMR EFM19</text>
<line x1="442.80" y1="334.30" x2="442.80" y2="479.10" stroke="#000" stroke-width="1.3" stroke-linecap="butt"/>
<line x1="436.40" y1="334.90" x2="442.80" y2="334.90" stroke="#000" stroke-width="1.3" stroke-linecap="butt"/>
<text x="435.20" y="338.50" font-family="Liberation Sans, sans-serif" font-weight="bold" font-style="normal" font-size="10.4" text-anchor="end" fill="#000" >3</text>
<line x1="436.40" y1="382.70" x2="442.80" y2="382.70" stroke="#000" stroke-width="1.3" stroke-linecap="butt"/>
<text x="435.20" y="386.30" font-family="Liberation Sans, sans-serif" font-weight="bold" font-style="normal" font-size="10.4" text-anchor="end" fill="#000" >2</text>
<line x1="436.40" y1="430.50" x2="442.80" y2="430.50" stroke="#000" stroke-width="1.3" stroke-linecap="butt"/>
<text x="435.20" y="434.10" font-family="Liberation Sans, sans-serif" font-weight="bold" font-style="normal" font-size="10.4" text-anchor="end" fill="#000" >1</text>
<line x1="436.40" y1="478.30" x2="442.80" y2="478.30" stroke="#000" stroke-width="1.3" stroke-linecap="butt"/>
<text x="435.20" y="481.90" font-family="Liberation Sans, sans-serif" font-weight="bold" font-style="normal" font-size="10.4" text-anchor="end" fill="#000" >0</text>
<line x1="436.40" y1="478.30" x2="538.30" y2="478.30" stroke="#000" stroke-width="1.3" stroke-linecap="butt"/>
<line x1="468.90" y1="478.30" x2="468.90" y2="484.80" stroke="#000" stroke-width="1.3" stroke-linecap="butt"/>
<line x1="509.90" y1="478.30" x2="509.90" y2="484.80" stroke="#000" stroke-width="1.3" stroke-linecap="butt"/>
<path d="M458.20,478.30 V432.40 H481.50 V478.30" stroke="#000" stroke-width="2.2" fill="none" />
<path d="M498.10,478.30 V391.10 H522.00 V478.30" stroke="#f00" stroke-width="2.2" fill="none" />
<line x1="469.40" y1="429.00" x2="469.40" y2="433.00" stroke="#000" stroke-width="1.3" stroke-linecap="butt"/>
<line x1="463.90" y1="429.00" x2="474.90" y2="429.00" stroke="#000" stroke-width="1.3" stroke-linecap="butt"/>
<line x1="463.90" y1="433.00" x2="474.90" y2="433.00" stroke="#000" stroke-width="1.3" stroke-linecap="butt"/>
<line x1="510.30" y1="378.80" x2="510.30" y2="400.50" stroke="#f00" stroke-width="1.3" stroke-linecap="butt"/>
<line x1="503.70" y1="378.80" x2="516.90" y2="378.80" stroke="#f00" stroke-width="1.3" stroke-linecap="butt"/>
<line x1="503.70" y1="400.50" x2="516.90" y2="400.50" stroke="#f00" stroke-width="1.3" stroke-linecap="butt"/>
<circle cx="461.10" cy="429.00" r="2.05" stroke="#000" stroke-width="1.1" fill="#fff"/>
<circle cx="469.40" cy="429.00" r="2.05" stroke="#000" stroke-width="1.1" fill="#fff"/>
<circle cx="478.20" cy="429.00" r="2.05" stroke="#000" stroke-width="1.1" fill="#fff"/>
<circle cx="461.10" cy="433.10" r="2.05" stroke="#000" stroke-width="1.1" fill="#fff"/>
<circle cx="469.40" cy="433.10" r="2.05" stroke="#000" stroke-width="1.1" fill="#fff"/>
<circle cx="478.20" cy="433.10" r="2.05" stroke="#000" stroke-width="1.1" fill="#fff"/>
<circle cx="510.30" cy="344.80" r="2.05" stroke="#f00" stroke-width="1.1" fill="#fff"/>
<circle cx="510.30" cy="381.60" r="2.05" stroke="#f00" stroke-width="1.1" fill="#fff"/>
<circle cx="510.30" cy="386.00" r="2.05" stroke="#f00" stroke-width="1.1" fill="#fff"/>
<circle cx="505.90" cy="401.90" r="2.05" stroke="#f00" stroke-width="1.1" fill="#fff"/>
<circle cx="514.30" cy="401.90" r="2.05" stroke="#f00" stroke-width="1.1" fill="#fff"/>
<circle cx="510.30" cy="416.30" r="2.05" stroke="#f00" stroke-width="1.1" fill="#fff"/>
<path d="M468.9,419.3 V328 H509.6 V335.3" stroke="#000" stroke-width="1.1" fill="none" />
<path d="M485.60,321.80 L485.60,315.20 M482.74,320.15 L488.46,316.85 M488.46,320.15 L482.74,316.85 " stroke="#000" stroke-width="1.1" fill="none" stroke-linecap="butt"/>
<path d="M493.60,321.80 L493.60,315.20 M490.74,320.15 L496.46,316.85 M496.46,320.15 L490.74,316.85 " stroke="#000" stroke-width="1.1" fill="none" stroke-linecap="butt"/>
<text x="467.40" y="291.00" font-family="Liberation Sans, sans-serif" font-weight="bold" font-style="italic" font-size="16" text-anchor="start" fill="#000" >p21</text>
<text transform="translate(421.20,405.60) rotate(-90)" x="0" y="0" font-family="Liberation Sans, sans-serif" font-weight="bold" font-size="10.9" text-anchor="middle" fill="#000">Relative mRNA expression level</text>
<text transform="translate(472.80,492.90) rotate(-45)" x="0" y="0" font-family="Liberation Sans, sans-serif" font-weight="bold" font-size="11" text-anchor="end" fill="#000">EFM19</text>
<text transform="translate(513.10,492.90) rotate(-45)" x="0" y="0" font-family="Liberation Sans, sans-serif" font-weight="bold" font-size="11" text-anchor="end" fill="#000">TAMR EFM19</text>
<line x1="592.00" y1="332.80" x2="592.00" y2="478.90" stroke="#000" stroke-width="1.3" stroke-linecap="butt"/>
<line x1="585.60" y1="333.20" x2="592.00" y2="333.20" stroke="#000" stroke-width="1.3" stroke-linecap="butt"/>
<text x="584.40" y="336.80" font-family="Liberation Sans, sans-serif" font-weight="bold" font-style="normal" font-size="10.4" text-anchor="end" fill="#000" >3</text>
<line x1="585.60" y1="381.50" x2="592.00" y2="381.50" stroke="#000" stroke-width="1.3" stroke-linecap="butt"/>
<text x="584.40" y="385.10" font-family="Liberation Sans, sans-serif" font-weight="bold" font-style="normal" font-size="10.4" text-anchor="end" fill="#000" >2</text>
<line x1="585.60" y1="429.80" x2="592.00" y2="429.80" stroke="#000" stroke-width="1.3" stroke-linecap="butt"/>
<text x="584.40" y="433.40" font-family="Liberation Sans, sans-serif" font-weight="bold" font-style="normal" font-size="10.4" text-anchor="end" fill="#000" >1</text>
<line x1="585.60" y1="478.10" x2="592.00" y2="478.10" stroke="#000" stroke-width="1.3" stroke-linecap="butt"/>
<text x="584.40" y="481.70" font-family="Liberation Sans, sans-serif" font-weight="bold" font-style="normal" font-size="10.4" text-anchor="end" fill="#000" >0</text>
<line x1="585.60" y1="478.10" x2="682.40" y2="478.10" stroke="#000" stroke-width="1.3" stroke-linecap="butt"/>
<line x1="618.10" y1="478.10" x2="618.10" y2="484.60" stroke="#000" stroke-width="1.3" stroke-linecap="butt"/>
<line x1="655.40" y1="478.10" x2="655.40" y2="484.60" stroke="#000" stroke-width="1.3" stroke-linecap="butt"/>
<path d="M606.90,478.10 V430.50 H629.30 V478.10" stroke="#000" stroke-width="2.2" fill="none" />
<path d="M644.60,478.10 V389.90 H667.50 V478.10" stroke="#f00" stroke-width="2.2" fill="none" />
<line x1="618.10" y1="424.80" x2="618.10" y2="434.00" stroke="#000" stroke-width="1.3" stroke-linecap="butt"/>
<line x1="611.70" y1="424.80" x2="624.50" y2="424.80" stroke="#000" stroke-width="1.3" stroke-linecap="butt"/>
<line x1="611.70" y1="434.00" x2="624.50" y2="434.00" stroke="#000" stroke-width="1.3" stroke-linecap="butt"/>
<line x1="655.90" y1="375.70" x2="655.90" y2="402.00" stroke="#f00" stroke-width="1.3" stroke-linecap="butt"/>
<line x1="649.00" y1="375.70" x2="662.80" y2="375.70" stroke="#f00" stroke-width="1.3" stroke-linecap="butt"/>
<line x1="649.00" y1="402.00" x2="662.80" y2="402.00" stroke="#f00" stroke-width="1.3" stroke-linecap="butt"/>
<circle cx="617.70" cy="416.00" r="2.05" stroke="#000" stroke-width="1.1" fill="#fff"/>
<circle cx="617.70" cy="422.10" r="2.05" stroke="#000" stroke-width="1.1" fill="#fff"/>
<circle cx="613.50" cy="429.80" r="2.05" stroke="#000" stroke-width="1.1" fill="#fff"/>
<circle cx="621.80" cy="428.50" r="2.05" stroke="#000" stroke-width="1.1" fill="#fff"/>
<circle cx="614.00" cy="440.40" r="2.05" stroke="#000" stroke-width="1.1" fill="#fff"/>
<circle cx="622.30" cy="436.40" r="2.05" stroke="#000" stroke-width="1.1" fill="#fff"/>
<circle cx="655.90" cy="346.00" r="2.05" stroke="#f00" stroke-width="1.1" fill="#fff"/>
<circle cx="655.90" cy="352.60" r="2.05" stroke="#f00" stroke-width="1.1" fill="#fff"/>
<circle cx="652.10" cy="401.50" r="2.05" stroke="#f00" stroke-width="1.1" fill="#fff"/>
<circle cx="660.30" cy="399.30" r="2.05" stroke="#f00" stroke-width="1.1" fill="#fff"/>
<circle cx="656.60" cy="411.00" r="2.05" stroke="#f00" stroke-width="1.1" fill="#fff"/>
<circle cx="655.90" cy="421.40" r="2.05" stroke="#f00" stroke-width="1.1" fill="#fff"/>
<path d="M617.5,407.1 V329.4 H655.4 V337.6" stroke="#000" stroke-width="1.1" fill="none" />
<path d="M636.80,323.70 L636.80,317.10 M633.94,322.05 L639.66,318.75 M639.66,322.05 L633.94,318.75 " stroke="#000" stroke-width="1.1" fill="none" stroke-linecap="butt"/>
<text x="606.50" y="291.30" font-family="Liberation Sans, sans-serif" font-weight="bold" font-style="italic" font-size="16" text-anchor="start" fill="#000" >p53</text>
<text transform="translate(570.60,405.60) rotate(-90)" x="0" y="0" font-family="Liberation Sans, sans-serif" font-weight="bold" font-size="10.9" text-anchor="middle" fill="#000">Relative mRNA expression level</text>
<text transform="translate(620.60,492.30) rotate(-45)" x="0" y="0" font-family="Liberation Sans, sans-serif" font-weight="bold" font-size="11" text-anchor="end" fill="#000">EFM19</text>
<text transform="translate(658.70,492.30) rotate(-45)" x="0" y="0" font-family="Liberation Sans, sans-serif" font-weight="bold" font-size="11" text-anchor="end" fill="#000">TAMR EFM19</text>
</svg>
</body></html>
